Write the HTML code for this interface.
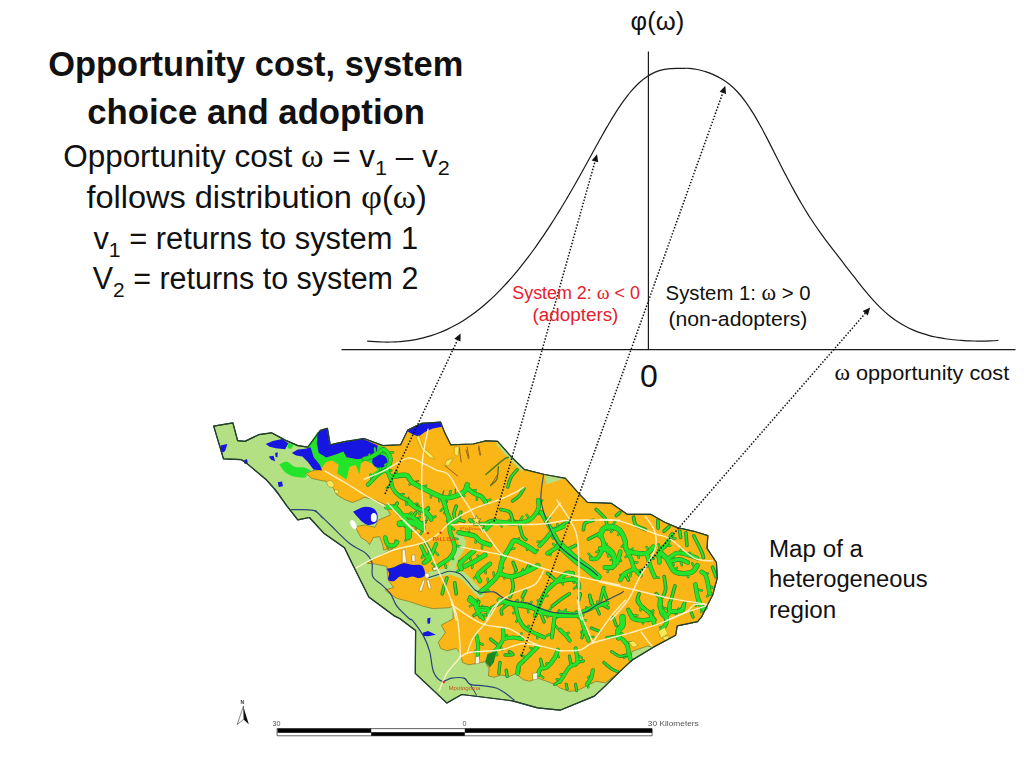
<!DOCTYPE html>
<html lang="en"><head><meta charset="utf-8"><title>Opportunity cost, system choice and adoption</title>
<style>html,body{margin:0;padding:0;background:#fff;}body{width:1024px;height:768px;overflow:hidden;}svg{display:block;}text{font-family:"Liberation Sans","DejaVu Sans",sans-serif;}</style>
</head><body>
<svg width="1024" height="768" viewBox="0 0 1024 768">
<rect width="1024" height="768" fill="#fff"/>
<defs><filter id="soft" x="-2%" y="-2%" width="104%" height="104%"><feGaussianBlur stdDeviation="0.45"/></filter></defs>
<g id="map" stroke-linejoin="round" stroke-linecap="round" filter="url(#soft)">
<polygon points="213.7,426.1 232.9,422.9 237.6,440.6 244.9,441.4 258.7,434.7 271.5,432.8 285.2,440.1 297.8,445.6 307.9,447.2 320.4,430.4 327.4,428.4 330.2,444.8 344.6,441.7 364,438.6 382.8,445.6 400.7,444.8 407.8,430 421.8,423.3 440.6,422.2 444.5,432.3 450.7,444.8 473.4,444 485.9,440.9 497.6,441.4 511.7,457.3 524,469.3 544.3,474.5 565.4,478.4 578.7,493.3 587.3,502.3 611.5,503.4 627.1,514.3 650.6,514.3 664.6,522.2 677.1,527.6 693.8,531.3 707.8,535.6 707,548.4 716.4,562.5 717.2,578.1 712.5,595.3 710,600 701.4,617.2 697.5,621.6 677.2,625.8 675.6,635.2 653.8,646.9 631.9,660.2 619.4,671.9 605.3,685.9 594.4,696.1 560,710.2 537.5,707.8 512.5,700.8 461.7,694.5 446.9,703.1 415.3,673.4 415.6,630.5 400,618.8 393.8,615.6 368.8,596.9 357.8,575 351.6,562.5 344.5,547.7 324.2,533.6 309.4,517.5 297.8,519.8 286.8,505.8 279,494.8 272.8,487 265.7,479.2 247,463.6 241.5,459.7 223.5,458.9" fill="#b4e084" stroke="#24402e" stroke-width="1.2"/>
<polygon points="306.3,472.9 313.4,470.6 320.5,469.5 321.5,461.5 330,456 344,452 364,438.6 382.8,445.6 400.7,444.8 407.8,430 421.8,423.3 440.6,422.2 444.5,432.3 450.7,444.8 473.4,444 485.9,440.9 497.6,441.4 511.7,457.3 524,469.3 544.3,474.5 565.4,478.4 578.7,493.3 587.3,502.3 611.5,503.4 627.1,514.3 650.6,514.3 664.6,522.2 677.1,527.6 693.8,531.3 707.8,535.6 707,548.4 716.4,562.5 717.2,578.1 712.5,595.3 710,600 701.4,617.2 697.5,621.6 677.2,625.8 675.6,635.2 653.8,646.9 647.5,646.1 638.1,649.2 631.9,651.6 631.1,657.8 631.9,660.2 619.4,671.9 611.6,678.1 605.3,682.8 595.9,681.3 586.6,685.9 577.2,690.6 569.4,691.4 560,688 556.3,685.2 546.9,681.3 537.5,678.1 529.7,681.3 523.4,679.7 515.6,673.4 509.4,676.6 501.6,675 493.8,677.3 488.3,675.8 489.1,668.8 485.2,661.7 476.6,663.3 468.8,664.8 462.5,662.5 460.9,653.9 456.3,648.4 446.9,650.8 440.6,648.4 438.3,642.2 445.3,632.8 441.4,625 453.1,618.8 453.1,606.3 448.4,607.8 432.8,608.6 423.4,606.3 409.4,601.6 396.9,598.4 387.5,592.2 385.2,589.8 393.8,587.5 388.3,580.5 386.7,566.4 375,564 367.2,563.3 378.1,556.3 393,548.5 383.5,550 382.8,545.3 379.7,536.7 373.4,537.5 369.5,544.5 367.2,541.4 360.9,537.5 355.5,527.3 359.4,525.8 365.6,525 375,527.3 378.1,520.3 385.2,517.2 390.6,514.8 389,512 384.3,504.2 373.4,499.5 364,497.2 360.3,499.5 352.4,502.6 344.6,499.5 336.8,494.8 333.7,488.6 327.4,481.5 322.8,480.8 311.8,478.4 306.3,473.7" fill="#fab614" stroke="#6b6420" stroke-width="0.6"/>
<polygon points="544.3,474.8 564,478.6 547,484.5" fill="#b4e084"/>
<polygon points="497.6,441.6 511.7,457.5 524,469.5 522,471 509,459 496,444" fill="#b4e084"/>
<path d="M429.4 575.6 C430.8 575.2 434.1 573.9 437.5 573.1 C440.9 572.3 447.3 572.8 450 570.6 C452.7 568.4 452.2 563.4 453.8 560 C455.4 556.6 458.4 552.9 459.8 550 C461.2 547.1 462.7 544.8 462.5 542.5 C462.3 540.2 459.4 537.2 458.8 536.2" fill="none" stroke="#b4e084" stroke-width="7"/>
<path d="M450 570.6 C452.1 571.4 458.9 573.2 462.5 575.6 C466.1 578.0 469.0 582.0 471.9 585 C474.8 588.0 478.6 592.3 480 593.8" fill="none" stroke="#b4e084" stroke-width="7.5"/>
<path d="M279.3 464.3 C280.6 463.9 284.2 461.3 286.8 461.7 C289.4 462.1 291.7 465.7 294.6 466.7 C297.5 467.7 301.3 466.9 304 467.5 C306.7 468.1 310.2 469.7 310.6 470.6 C311.0 471.6 307.1 472.1 306.3 473.2 C305.5 474.3 307.6 476.7 305.6 477.3 C303.7 477.9 298.0 477.7 294.6 476.8 C291.2 475.9 287.8 474.3 285.2 472.2 C282.6 470.1 280.3 465.6 279.3 464.3Z" fill="#24e42c"/>
<polygon points="288.4,443.2 293.8,444.5 291.5,448.7 287.6,448.2" fill="#24e42c"/>
<polygon points="307.4,447.3 317.6,432 317.1,443.2 318.7,452.9 326.2,457.6 335.6,454.5 343.4,451.4 346.5,457.3 357.4,459.2 368.4,457.6 376.5,452.9 377.8,445.6 384,447.2 391.8,455.8 392.1,463.6 387.1,471.4 377.8,477.6 368.4,485.8 371.5,474.5 377.8,469.8 371.5,463.6 365.2,460.4 360.9,463.6 359.3,474.8 355.9,465.1 349.6,466.7 346.5,479.5 337.1,473.2 338.7,465.1 332.4,460.4 326.2,462 320.2,470.1 313.7,458.9 310.6,451.1" fill="#24e42c"/>
<polygon points="265.7,444 272.8,440.9 282.1,438.9 288.4,443.2 285.2,449.2 275.9,448.2 269.6,446.7" fill="#1414e0"/>
<polygon points="220.4,445.6 227.4,444 225.1,451.1 221.5,452.9" fill="#1414e0"/>
<polygon points="268.8,456.5 273.5,455.8 275.1,461.2 271.2,459.7" fill="#1414e0"/>
<polygon points="275.1,452.9 277.8,452.3 277.4,457.3 275.6,457" fill="#1414e0"/>
<polygon points="243.1,460.8 247,458.9 247.8,463.2 244.9,463.9" fill="#1414e0"/>
<polygon points="277.8,482.3 282.1,481.5 282.9,486.2 278.7,487" fill="#1414e0"/>
<polygon points="272.4,486.7 275.1,488.6 279.8,494.8 277.4,493.2" fill="#1414e0"/>
<polygon points="291.8,452.9 297.8,449.5 305.6,448.7 310.6,447.3 313.7,457.3 319.9,465.1 322.1,470.4 313.4,469.5 307.9,462 302.4,456.5 296.2,455.4" fill="#1414e0"/>
<polygon points="317.6,432.3 327,428.4 329.6,444.8 343.4,442.5 362.1,438.6 377.8,445.6 376.5,452.9 368.4,457.6 357.4,459.2 346.5,457.3 343.4,451.4 335.6,454.5 326.2,457.6 318.7,452.9 316.8,443.2" fill="#1414e0"/>
<ellipse cx="379.8" cy="461.3" rx="7.6" ry="6.8" fill="#1414e0"/>
<polygon points="407,431.1 421.8,423.2 440.6,422.2 442.1,426.8 432.8,428.4 424.9,432 418.7,436.4 412.4,434.2" fill="#1414e0"/>
<path d="M353.1 511.7 C354.9 510.9 360.7 507.5 364.1 507 C367.5 506.5 371.2 507.4 373.4 508.6 C375.6 509.8 376.8 511.9 377.3 514.1 C377.8 516.3 378.0 520.1 376.6 521.9 C375.2 523.7 371.2 525.0 368.8 525 C366.4 525.0 364.3 523.2 362.5 521.9 C360.7 520.6 359.4 518.9 357.8 517.2 C356.2 515.5 353.9 512.6 353.1 511.7Z" fill="#1414e0"/>
<ellipse cx="373.8" cy="517.5" rx="3" ry="4.6" fill="#fff"/>
<ellipse cx="353.4" cy="524.7" rx="2.6" ry="5" fill="#fff" transform="rotate(-25 353.4 524.7)"/>
<path d="M386.7 568.8 C387.9 568.5 391.1 568.1 393.8 567.2 C396.5 566.3 400.0 563.7 403.1 563.3 C406.2 562.9 409.4 564.4 412.5 564.8 C415.6 565.2 419.8 563.9 421.9 565.6 C424.0 567.3 425.5 572.9 425 575 C424.5 577.1 420.9 577.8 418.8 578.1 C416.7 578.4 414.6 576.6 412.5 576.6 C410.4 576.6 408.3 578.1 406.2 578.1 C404.1 578.1 402.1 576.1 400 576.6 C397.9 577.1 395.8 580.7 393.8 581.2 C391.9 581.7 389.1 581.0 388.3 579.7 C387.5 578.4 389.4 575.2 389.1 573.4 C388.8 571.6 387.1 569.6 386.7 568.8Z" fill="#1414e0"/>
<polygon points="427.3,618.4 430.5,617.5 430,623.4 427.5,623.8" fill="#1414e0"/>
<polygon points="422.7,632.8 428.1,630.9 435.9,634.7 428.1,636.2 423.4,635.9" fill="#1414e0"/>
<path d="M368.5 457.7 L369.4 454.5" fill="none" stroke="#2f8a2a" stroke-width="2.5"/>
<path d="M375.3 454.5 L374.8 448.3" fill="none" stroke="#2f8a2a" stroke-width="2.5"/>
<path d="M381.8 450.9 L385.3 452.9" fill="none" stroke="#2f8a2a" stroke-width="2.5"/>
<path d="M386.8 453.3 L393.1 452.3" fill="none" stroke="#2f8a2a" stroke-width="2.5"/>
<path d="M389.6 462.5 L385 464.8" fill="none" stroke="#2f8a2a" stroke-width="2.5"/>
<path d="M387.7 470.4 L391.3 470.6" fill="none" stroke="#2f8a2a" stroke-width="2.5"/>
<path d="M470.7 490.9 L475.8 490.2" fill="none" stroke="#2f8a2a" stroke-width="2.5"/>
<path d="M477.1 494.7 L476.9 499.8" fill="none" stroke="#2f8a2a" stroke-width="2.5"/>
<path d="M484.6 500.8 L490.2 499.8" fill="none" stroke="#2f8a2a" stroke-width="2.5"/>
<path d="M395.4 476.3 L396.5 470.9" fill="none" stroke="#2f8a2a" stroke-width="2.5"/>
<path d="M405.8 475.3 L409 480.5" fill="none" stroke="#2f8a2a" stroke-width="2.5"/>
<path d="M411.7 481.5 L409.5 484.4" fill="none" stroke="#2f8a2a" stroke-width="2.5"/>
<path d="M421.6 487.4 L426.1 485.6" fill="none" stroke="#2f8a2a" stroke-width="2.5"/>
<path d="M431.4 492.3 L430.9 497.4" fill="none" stroke="#2f8a2a" stroke-width="2.5"/>
<path d="M439.5 496 L439.2 501.2" fill="none" stroke="#2f8a2a" stroke-width="2.5"/>
<path d="M449 497.2 L450.7 491.1" fill="none" stroke="#2f8a2a" stroke-width="2.5"/>
<path d="M459.2 493.8 L464.3 496" fill="none" stroke="#2f8a2a" stroke-width="2.5"/>
<path d="M392.1 484.6 L386.8 487.8" fill="none" stroke="#2f8a2a" stroke-width="2.5"/>
<path d="M398.6 494.9 L403.7 494.1" fill="none" stroke="#2f8a2a" stroke-width="2.5"/>
<path d="M405.6 499.2 L406.4 504.8" fill="none" stroke="#2f8a2a" stroke-width="2.5"/>
<path d="M415.2 506.9 L418.8 505.8" fill="none" stroke="#2f8a2a" stroke-width="2.5"/>
<path d="M423.1 510.5 L424.4 515" fill="none" stroke="#2f8a2a" stroke-width="2.5"/>
<path d="M430.4 518.5 L435.5 516.5" fill="none" stroke="#2f8a2a" stroke-width="2.5"/>
<path d="M443.1 500.5 L446.8 501.8" fill="none" stroke="#2f8a2a" stroke-width="2.5"/>
<path d="M446.2 510.5 L444.2 513.1" fill="none" stroke="#2f8a2a" stroke-width="2.5"/>
<path d="M448.6 519.4 L454.6 521.4" fill="none" stroke="#2f8a2a" stroke-width="2.5"/>
<path d="M372.2 480.4 L370.5 474.6" fill="none" stroke="#2f8a2a" stroke-width="2.5"/>
<path d="M380.1 472.7 L380.4 468.2" fill="none" stroke="#2f8a2a" stroke-width="2.5"/>
<path d="M391.7 507.5 L394.6 504.9" fill="none" stroke="#2f8a2a" stroke-width="2.5"/>
<path d="M398.9 511.8 L398.6 515" fill="none" stroke="#2f8a2a" stroke-width="2.5"/>
<path d="M403.7 517.7 L407 517.5" fill="none" stroke="#2f8a2a" stroke-width="2.5"/>
<path d="M408.3 527.1 L411.7 529.2" fill="none" stroke="#2f8a2a" stroke-width="2.5"/>
<path d="M409.4 536.2 L405.4 540.6" fill="none" stroke="#2f8a2a" stroke-width="2.5"/>
<path d="M406.9 516 L411.4 512.5" fill="none" stroke="#2f8a2a" stroke-width="2.5"/>
<path d="M415.7 519.8 L419.9 517.3" fill="none" stroke="#2f8a2a" stroke-width="2.5"/>
<path d="M423.3 529.6 L420.5 534.2" fill="none" stroke="#2f8a2a" stroke-width="2.5"/>
<path d="M413 505.8 L416.4 503.6" fill="none" stroke="#2f8a2a" stroke-width="2.5"/>
<path d="M420 509.6 L419.6 514.5" fill="none" stroke="#2f8a2a" stroke-width="2.5"/>
<path d="M427.6 514.1 L427 519.9" fill="none" stroke="#2f8a2a" stroke-width="2.5"/>
<path d="M387.5 544.1 L387.9 548" fill="none" stroke="#2f8a2a" stroke-width="2.5"/>
<path d="M395.7 543.7 L395.6 540.4" fill="none" stroke="#2f8a2a" stroke-width="2.5"/>
<path d="M445.4 506.3 L440.8 510.6" fill="none" stroke="#2f8a2a" stroke-width="2.5"/>
<path d="M449.2 518.4 L446.9 521.5" fill="none" stroke="#2f8a2a" stroke-width="2.5"/>
<path d="M450 526.4 L454.2 529.6" fill="none" stroke="#2f8a2a" stroke-width="2.5"/>
<path d="M452.3 538.1 L457.5 539" fill="none" stroke="#2f8a2a" stroke-width="2.5"/>
<path d="M454.1 545.4 L460.2 546.5" fill="none" stroke="#2f8a2a" stroke-width="2.5"/>
<path d="M450.9 555.9 L453.1 559" fill="none" stroke="#2f8a2a" stroke-width="2.5"/>
<path d="M444.3 561.6 L446.1 567.8" fill="none" stroke="#2f8a2a" stroke-width="2.5"/>
<path d="M436.7 567.2 L432.4 563.6" fill="none" stroke="#2f8a2a" stroke-width="2.5"/>
<path d="M403.7 523.5 L405.1 526.9" fill="none" stroke="#2f8a2a" stroke-width="2.5"/>
<path d="M416.2 524.6 L415.8 529" fill="none" stroke="#2f8a2a" stroke-width="2.5"/>
<path d="M407.6 528.1 L413.3 530.7" fill="none" stroke="#2f8a2a" stroke-width="2.5"/>
<path d="M465.8 534 L469.1 531.9" fill="none" stroke="#2f8a2a" stroke-width="2.5"/>
<path d="M476.5 537.7 L475.5 542.6" fill="none" stroke="#2f8a2a" stroke-width="2.5"/>
<path d="M482.2 542 L482 548.2" fill="none" stroke="#2f8a2a" stroke-width="2.5"/>
<path d="M469.5 554.8 L470.6 559.6" fill="none" stroke="#2f8a2a" stroke-width="2.5"/>
<path d="M462.4 561.3 L459.2 561" fill="none" stroke="#2f8a2a" stroke-width="2.5"/>
<path d="M461.1 568.2 L456.9 572" fill="none" stroke="#2f8a2a" stroke-width="2.5"/>
<path d="M480.2 557.9 L477.6 555.6" fill="none" stroke="#2f8a2a" stroke-width="2.5"/>
<path d="M472.9 562.2 L472.1 567.9" fill="none" stroke="#2f8a2a" stroke-width="2.5"/>
<path d="M484.8 568.1 L485.7 573.3" fill="none" stroke="#2f8a2a" stroke-width="2.5"/>
<path d="M477.5 575.1 L474.1 578.2" fill="none" stroke="#2f8a2a" stroke-width="2.5"/>
<path d="M475.2 603.1 L469.9 606.3" fill="none" stroke="#2f8a2a" stroke-width="2.5"/>
<path d="M479.9 610 L482.2 606.1" fill="none" stroke="#2f8a2a" stroke-width="2.5"/>
<path d="M488.3 613.3 L485.5 616.1" fill="none" stroke="#2f8a2a" stroke-width="2.5"/>
<path d="M424.3 552.4 L421.8 558" fill="none" stroke="#2f8a2a" stroke-width="2.5"/>
<path d="M428.5 559.5 L425.3 562.8" fill="none" stroke="#2f8a2a" stroke-width="2.5"/>
<path d="M433.4 550.4 L438.1 554.8" fill="none" stroke="#2f8a2a" stroke-width="2.5"/>
<path d="M429.3 559 L425.8 559.4" fill="none" stroke="#2f8a2a" stroke-width="2.5"/>
<path d="M474.2 523.2 L478.8 521.4" fill="none" stroke="#2f8a2a" stroke-width="2.5"/>
<path d="M485.4 525.5 L481.8 530.6" fill="none" stroke="#2f8a2a" stroke-width="2.5"/>
<path d="M482.9 590 L488.6 590.5" fill="none" stroke="#2f8a2a" stroke-width="2.5"/>
<path d="M488.8 584.9 L487.6 578.8" fill="none" stroke="#2f8a2a" stroke-width="2.5"/>
<path d="M494.6 578.7 L493.5 572.6" fill="none" stroke="#2f8a2a" stroke-width="2.5"/>
<path d="M500.1 569.2 L503.1 567.7" fill="none" stroke="#2f8a2a" stroke-width="2.5"/>
<path d="M502.7 560.1 L500.7 554.1" fill="none" stroke="#2f8a2a" stroke-width="2.5"/>
<path d="M508.4 549.8 L514.3 548.4" fill="none" stroke="#2f8a2a" stroke-width="2.5"/>
<path d="M515.7 541 L519.1 538.4" fill="none" stroke="#2f8a2a" stroke-width="2.5"/>
<path d="M527 546.3 L527.2 549.9" fill="none" stroke="#2f8a2a" stroke-width="2.5"/>
<path d="M534.1 551 L537.7 550" fill="none" stroke="#2f8a2a" stroke-width="2.5"/>
<path d="M503.5 574.5 L504.3 578.3" fill="none" stroke="#2f8a2a" stroke-width="2.5"/>
<path d="M514.1 575.7 L515.9 570.1" fill="none" stroke="#2f8a2a" stroke-width="2.5"/>
<path d="M521 573.4 L523.1 569.1" fill="none" stroke="#2f8a2a" stroke-width="2.5"/>
<path d="M530.3 569.5 L531.1 564.9" fill="none" stroke="#2f8a2a" stroke-width="2.5"/>
<path d="M505.1 601.9 L504.6 606.1" fill="none" stroke="#2f8a2a" stroke-width="2.5"/>
<path d="M513.1 604.2 L517.6 600" fill="none" stroke="#2f8a2a" stroke-width="2.5"/>
<path d="M520.9 605.4 L523.1 599.4" fill="none" stroke="#2f8a2a" stroke-width="2.5"/>
<path d="M527.8 606.8 L531.5 601.9" fill="none" stroke="#2f8a2a" stroke-width="2.5"/>
<path d="M534.9 608.6 L535.5 613" fill="none" stroke="#2f8a2a" stroke-width="2.5"/>
<path d="M547.1 612.5 L550.9 608.5" fill="none" stroke="#2f8a2a" stroke-width="2.5"/>
<path d="M554.9 614.9 L556.6 617.6" fill="none" stroke="#2f8a2a" stroke-width="2.5"/>
<path d="M563.8 615.4 L564.8 611.2" fill="none" stroke="#2f8a2a" stroke-width="2.5"/>
<path d="M576.1 615.1 L578.6 618" fill="none" stroke="#2f8a2a" stroke-width="2.5"/>
<path d="M488.6 527.1 L488.6 521.4" fill="none" stroke="#2f8a2a" stroke-width="2.5"/>
<path d="M498.8 522.2 L501.7 526.4" fill="none" stroke="#2f8a2a" stroke-width="2.5"/>
<path d="M507.5 522.9 L509.2 519.8" fill="none" stroke="#2f8a2a" stroke-width="2.5"/>
<path d="M519.5 522.1 L522.4 516.7" fill="none" stroke="#2f8a2a" stroke-width="2.5"/>
<path d="M529.5 519.4 L526.6 514.7" fill="none" stroke="#2f8a2a" stroke-width="2.5"/>
<path d="M535.2 512.8 L538.7 513.9" fill="none" stroke="#2f8a2a" stroke-width="2.5"/>
<path d="M538.1 502.6 L542.2 500.5" fill="none" stroke="#2f8a2a" stroke-width="2.5"/>
<path d="M545 519 L550 517.7" fill="none" stroke="#2f8a2a" stroke-width="2.5"/>
<path d="M550.7 528.6 L554.6 527.9" fill="none" stroke="#2f8a2a" stroke-width="2.5"/>
<path d="M554.5 535.4 L552.8 538.5" fill="none" stroke="#2f8a2a" stroke-width="2.5"/>
<path d="M559.5 544.4 L556.3 548.6" fill="none" stroke="#2f8a2a" stroke-width="2.5"/>
<path d="M550.3 533.5 L552.8 537.7" fill="none" stroke="#2f8a2a" stroke-width="2.5"/>
<path d="M543.2 541.9 L537.6 541.8" fill="none" stroke="#2f8a2a" stroke-width="2.5"/>
<path d="M556.2 529.6 L557.6 524.4" fill="none" stroke="#2f8a2a" stroke-width="2.5"/>
<path d="M557.2 547.1 L553.1 543.9" fill="none" stroke="#2f8a2a" stroke-width="2.5"/>
<path d="M550.9 551.2 L550.4 555.2" fill="none" stroke="#2f8a2a" stroke-width="2.5"/>
<path d="M614.3 528.4 L611.1 532" fill="none" stroke="#2f8a2a" stroke-width="2.5"/>
<path d="M606.9 526.6 L603.2 529.7" fill="none" stroke="#2f8a2a" stroke-width="2.5"/>
<path d="M600.7 532.7 L602.3 538.2" fill="none" stroke="#2f8a2a" stroke-width="2.5"/>
<path d="M603.1 542.6 L606.4 543.8" fill="none" stroke="#2f8a2a" stroke-width="2.5"/>
<path d="M601.1 550.6 L596.4 551.9" fill="none" stroke="#2f8a2a" stroke-width="2.5"/>
<path d="M592.6 558.6 L588.6 553.8" fill="none" stroke="#2f8a2a" stroke-width="2.5"/>
<path d="M606.4 547.5 L604.7 550.7" fill="none" stroke="#2f8a2a" stroke-width="2.5"/>
<path d="M613.3 554.5 L608.1 556.5" fill="none" stroke="#2f8a2a" stroke-width="2.5"/>
<path d="M613.6 565.8 L612.6 569" fill="none" stroke="#2f8a2a" stroke-width="2.5"/>
<path d="M537.1 611.1 L541.6 611.3" fill="none" stroke="#2f8a2a" stroke-width="2.5"/>
<path d="M540.1 604 L537.7 600.4" fill="none" stroke="#2f8a2a" stroke-width="2.5"/>
<path d="M543.8 595.3 L547.5 596" fill="none" stroke="#2f8a2a" stroke-width="2.5"/>
<path d="M551.3 586.8 L550.8 583.5" fill="none" stroke="#2f8a2a" stroke-width="2.5"/>
<path d="M560.2 578.5 L566.4 579.3" fill="none" stroke="#2f8a2a" stroke-width="2.5"/>
<path d="M570.5 573.4 L572.4 576.2" fill="none" stroke="#2f8a2a" stroke-width="2.5"/>
<path d="M560.6 580.9 L563 584.4" fill="none" stroke="#2f8a2a" stroke-width="2.5"/>
<path d="M572.3 580 L574.2 582.7" fill="none" stroke="#2f8a2a" stroke-width="2.5"/>
<path d="M578 585.3 L574 588.4" fill="none" stroke="#2f8a2a" stroke-width="2.5"/>
<path d="M604 529.3 L609.6 529.5" fill="none" stroke="#2f8a2a" stroke-width="2.5"/>
<path d="M611.8 526.7 L615.2 521.4" fill="none" stroke="#2f8a2a" stroke-width="2.5"/>
<path d="M620.4 531.3 L618.2 534.9" fill="none" stroke="#2f8a2a" stroke-width="2.5"/>
<path d="M625.4 543 L621.7 546.9" fill="none" stroke="#2f8a2a" stroke-width="2.5"/>
<path d="M629.7 551 L632.6 548.6" fill="none" stroke="#2f8a2a" stroke-width="2.5"/>
<path d="M637.6 553.1 L638.7 557.8" fill="none" stroke="#2f8a2a" stroke-width="2.5"/>
<path d="M649.2 550.9 L646.6 547" fill="none" stroke="#2f8a2a" stroke-width="2.5"/>
<path d="M661.8 554 L660.4 558.1" fill="none" stroke="#2f8a2a" stroke-width="2.5"/>
<path d="M669.3 563.1 L672.5 563.6" fill="none" stroke="#2f8a2a" stroke-width="2.5"/>
<path d="M674.4 570.7 L676.9 567.7" fill="none" stroke="#2f8a2a" stroke-width="2.5"/>
<path d="M685.3 572.8 L688.3 577" fill="none" stroke="#2f8a2a" stroke-width="2.5"/>
<path d="M694.8 568.6 L692.3 563.4" fill="none" stroke="#2f8a2a" stroke-width="2.5"/>
<path d="M607.1 550.8 L608.1 555.4" fill="none" stroke="#2f8a2a" stroke-width="2.5"/>
<path d="M614 559.9 L610.7 560.1" fill="none" stroke="#2f8a2a" stroke-width="2.5"/>
<path d="M608.7 567.3 L607.7 572" fill="none" stroke="#2f8a2a" stroke-width="2.5"/>
<path d="M628.8 554.5 L625.6 556.9" fill="none" stroke="#2f8a2a" stroke-width="2.5"/>
<path d="M632 561.7 L637.4 562.4" fill="none" stroke="#2f8a2a" stroke-width="2.5"/>
<path d="M637 571.6 L642.4 569.5" fill="none" stroke="#2f8a2a" stroke-width="2.5"/>
<path d="M631.5 570.2 L630.4 576.3" fill="none" stroke="#2f8a2a" stroke-width="2.5"/>
<path d="M624.1 574.7 L620.1 575" fill="none" stroke="#2f8a2a" stroke-width="2.5"/>
<path d="M647.8 556.6 L653.7 558.8" fill="none" stroke="#2f8a2a" stroke-width="2.5"/>
<path d="M649.8 564.9 L647.1 566.5" fill="none" stroke="#2f8a2a" stroke-width="2.5"/>
<path d="M654.7 576.9 L658.8 577.8" fill="none" stroke="#2f8a2a" stroke-width="2.5"/>
<path d="M618.8 557 L621.1 561" fill="none" stroke="#2f8a2a" stroke-width="2.5"/>
<path d="M670.5 557.2 L674.3 558.1" fill="none" stroke="#2f8a2a" stroke-width="2.5"/>
<path d="M678.5 553.4 L681.7 548.9" fill="none" stroke="#2f8a2a" stroke-width="2.5"/>
<path d="M687.5 554.7 L690 552.7" fill="none" stroke="#2f8a2a" stroke-width="2.5"/>
<path d="M672.1 561 L673.7 564.9" fill="none" stroke="#2f8a2a" stroke-width="2.5"/>
<path d="M680.2 559.6 L681.8 565.1" fill="none" stroke="#2f8a2a" stroke-width="2.5"/>
<path d="M659.4 557 L654.7 555.9" fill="none" stroke="#2f8a2a" stroke-width="2.5"/>
<path d="M660.7 550.2 L658.5 544.4" fill="none" stroke="#2f8a2a" stroke-width="2.5"/>
<path d="M665.7 545.1 L670.3 545.7" fill="none" stroke="#2f8a2a" stroke-width="2.5"/>
<path d="M669.9 538.2 L675.5 538.4" fill="none" stroke="#2f8a2a" stroke-width="2.5"/>
<path d="M704 574.3 L707.7 573.6" fill="none" stroke="#2f8a2a" stroke-width="2.5"/>
<path d="M707.9 584.7 L712.4 587.6" fill="none" stroke="#2f8a2a" stroke-width="2.5"/>
<path d="M709.7 593.8 L707 596.4" fill="none" stroke="#2f8a2a" stroke-width="2.5"/>
<path d="M696.2 589.1 L701.8 590.5" fill="none" stroke="#2f8a2a" stroke-width="2.5"/>
<path d="M698.6 600.4 L695.9 605.6" fill="none" stroke="#2f8a2a" stroke-width="2.5"/>
<path d="M505.3 601.5 L506.6 605.7" fill="none" stroke="#2f8a2a" stroke-width="2.5"/>
<path d="M512.1 603.5 L514.5 608.8" fill="none" stroke="#2f8a2a" stroke-width="2.5"/>
<path d="M519.3 604.4 L521.4 607.1" fill="none" stroke="#2f8a2a" stroke-width="2.5"/>
<path d="M527.7 606.1 L528.2 612.3" fill="none" stroke="#2f8a2a" stroke-width="2.5"/>
<path d="M535.8 608.8 L539.7 605.4" fill="none" stroke="#2f8a2a" stroke-width="2.5"/>
<path d="M545.8 613.3 L547.5 617.1" fill="none" stroke="#2f8a2a" stroke-width="2.5"/>
<path d="M557.1 615.1 L559.1 610.2" fill="none" stroke="#2f8a2a" stroke-width="2.5"/>
<path d="M534.6 649.8 L530.3 647.8" fill="none" stroke="#2f8a2a" stroke-width="2.5"/>
<path d="M526.2 658.1 L521.3 655" fill="none" stroke="#2f8a2a" stroke-width="2.5"/>
<path d="M519.2 665.2 L519.3 671.5" fill="none" stroke="#2f8a2a" stroke-width="2.5"/>
<path d="M556.4 653.5 L558.8 657" fill="none" stroke="#2f8a2a" stroke-width="2.5"/>
<path d="M550.2 663.2 L546.3 663.4" fill="none" stroke="#2f8a2a" stroke-width="2.5"/>
<path d="M543.7 668 L540.9 666.2" fill="none" stroke="#2f8a2a" stroke-width="2.5"/>
<path d="M538.2 674.1 L543.2 677.6" fill="none" stroke="#2f8a2a" stroke-width="2.5"/>
<path d="M471.5 602.1 L477.5 599.6" fill="none" stroke="#2f8a2a" stroke-width="2.5"/>
<path d="M476.4 608.1 L480.8 609.6" fill="none" stroke="#2f8a2a" stroke-width="2.5"/>
<path d="M480.4 615.4 L486 614.2" fill="none" stroke="#2f8a2a" stroke-width="2.5"/>
<path d="M516.7 610.5 L513.3 613.3" fill="none" stroke="#2f8a2a" stroke-width="2.5"/>
<path d="M518.7 618.5 L516.2 621.6" fill="none" stroke="#2f8a2a" stroke-width="2.5"/>
<path d="M525.7 628.5 L529.1 625.8" fill="none" stroke="#2f8a2a" stroke-width="2.5"/>
<path d="M537.3 634.3 L537.3 638.3" fill="none" stroke="#2f8a2a" stroke-width="2.5"/>
<path d="M553.7 623.5 L557.4 628.3" fill="none" stroke="#2f8a2a" stroke-width="2.5"/>
<path d="M552.5 633.1 L546.9 635.6" fill="none" stroke="#2f8a2a" stroke-width="2.5"/>
<path d="M503.1 635.7 L507.4 636.7" fill="none" stroke="#2f8a2a" stroke-width="2.5"/>
<path d="M499.8 644.5 L502.1 649.8" fill="none" stroke="#2f8a2a" stroke-width="2.5"/>
<path d="M495.1 650.5 L497.2 655.3" fill="none" stroke="#2f8a2a" stroke-width="2.5"/>
<path d="M506.8 638.5 L506.8 635.2" fill="none" stroke="#2f8a2a" stroke-width="2.5"/>
<path d="M519.1 638.6 L521.6 633.3" fill="none" stroke="#2f8a2a" stroke-width="2.5"/>
<path d="M477.6 641.9 L482.7 644.7" fill="none" stroke="#2f8a2a" stroke-width="2.5"/>
<path d="M477.9 649.3 L474.4 652.1" fill="none" stroke="#2f8a2a" stroke-width="2.5"/>
<path d="M563.4 612.9 L565.9 609.6" fill="none" stroke="#2f8a2a" stroke-width="2.5"/>
<path d="M574.4 614 L576.4 611.3" fill="none" stroke="#2f8a2a" stroke-width="2.5"/>
<path d="M586.1 610.4 L586.5 607.2" fill="none" stroke="#2f8a2a" stroke-width="2.5"/>
<path d="M597 605.9 L597.5 601.5" fill="none" stroke="#2f8a2a" stroke-width="2.5"/>
<path d="M631.4 615.4 L637.3 615.4" fill="none" stroke="#2f8a2a" stroke-width="2.5"/>
<path d="M641.6 619.9 L643 623.4" fill="none" stroke="#2f8a2a" stroke-width="2.5"/>
<path d="M651.8 618.9 L653.1 612.8" fill="none" stroke="#2f8a2a" stroke-width="2.5"/>
<path d="M660 604.9 L663.2 607.5" fill="none" stroke="#2f8a2a" stroke-width="2.5"/>
<path d="M666 615.3 L665.1 620.1" fill="none" stroke="#2f8a2a" stroke-width="2.5"/>
<path d="M663.6 627.2 L660 627.5" fill="none" stroke="#2f8a2a" stroke-width="2.5"/>
<path d="M625.8 643.4 L630.9 642.2" fill="none" stroke="#2f8a2a" stroke-width="2.5"/>
<path d="M629.1 654 L624.1 657.7" fill="none" stroke="#2f8a2a" stroke-width="2.5"/>
<path d="M581.8 620 L585.6 620.2" fill="none" stroke="#2f8a2a" stroke-width="2.5"/>
<path d="M584.3 629.1 L581.2 632.3" fill="none" stroke="#2f8a2a" stroke-width="2.5"/>
<path d="M587.1 637.1 L593.3 637.1" fill="none" stroke="#2f8a2a" stroke-width="2.5"/>
<path d="M564.8 634.5 L568.7 632.8" fill="none" stroke="#2f8a2a" stroke-width="2.5"/>
<path d="M641.4 606.4 L640.3 610.4" fill="none" stroke="#2f8a2a" stroke-width="2.5"/>
<path d="M648.7 612.2 L653.3 610.6" fill="none" stroke="#2f8a2a" stroke-width="2.5"/>
<path d="M652 618.4 L648.2 621.2" fill="none" stroke="#2f8a2a" stroke-width="2.5"/>
<path d="M669.5 609.9 L665.2 608.4" fill="none" stroke="#2f8a2a" stroke-width="2.5"/>
<path d="M674.2 610.9 L676.7 615.7" fill="none" stroke="#2f8a2a" stroke-width="2.5"/>
<path d="M681.9 610.8 L678.3 608.7" fill="none" stroke="#2f8a2a" stroke-width="2.5"/>
<path d="M701 606.3 L701.4 612.1" fill="none" stroke="#2f8a2a" stroke-width="2.5"/>
<path d="M576.3 654.4 L581.8 657.8" fill="none" stroke="#2f8a2a" stroke-width="2.5"/>
<path d="M573.2 664.9 L570.6 662.2" fill="none" stroke="#2f8a2a" stroke-width="2.5"/>
<path d="M564.9 673.9 L560.6 674.6" fill="none" stroke="#2f8a2a" stroke-width="2.5"/>
<path d="M560.6 680.6 L556.7 679.3" fill="none" stroke="#2f8a2a" stroke-width="2.5"/>
<path d="M591.7 675.7 L588 677.5" fill="none" stroke="#2f8a2a" stroke-width="2.5"/>
<path d="M587.6 683.4 L588.3 687.2" fill="none" stroke="#2f8a2a" stroke-width="2.5"/>
<path d="M622.5 623.6 L618 627.2" fill="none" stroke="#2f8a2a" stroke-width="2.5"/>
<path d="M618.2 632.4 L622.4 633.6" fill="none" stroke="#2f8a2a" stroke-width="2.5"/>
<path d="M368.5 457.7 L369.4 454.5" fill="none" stroke="#24e42c" stroke-width="1.4"/>
<path d="M375.3 454.5 L374.8 448.3" fill="none" stroke="#24e42c" stroke-width="1.4"/>
<path d="M381.8 450.9 L385.3 452.9" fill="none" stroke="#24e42c" stroke-width="1.4"/>
<path d="M386.8 453.3 L393.1 452.3" fill="none" stroke="#24e42c" stroke-width="1.4"/>
<path d="M389.6 462.5 L385 464.8" fill="none" stroke="#24e42c" stroke-width="1.4"/>
<path d="M387.7 470.4 L391.3 470.6" fill="none" stroke="#24e42c" stroke-width="1.4"/>
<path d="M470.7 490.9 L475.8 490.2" fill="none" stroke="#24e42c" stroke-width="1.4"/>
<path d="M477.1 494.7 L476.9 499.8" fill="none" stroke="#24e42c" stroke-width="1.4"/>
<path d="M484.6 500.8 L490.2 499.8" fill="none" stroke="#24e42c" stroke-width="1.4"/>
<path d="M395.4 476.3 L396.5 470.9" fill="none" stroke="#24e42c" stroke-width="1.4"/>
<path d="M405.8 475.3 L409 480.5" fill="none" stroke="#24e42c" stroke-width="1.4"/>
<path d="M411.7 481.5 L409.5 484.4" fill="none" stroke="#24e42c" stroke-width="1.4"/>
<path d="M421.6 487.4 L426.1 485.6" fill="none" stroke="#24e42c" stroke-width="1.4"/>
<path d="M431.4 492.3 L430.9 497.4" fill="none" stroke="#24e42c" stroke-width="1.4"/>
<path d="M439.5 496 L439.2 501.2" fill="none" stroke="#24e42c" stroke-width="1.4"/>
<path d="M449 497.2 L450.7 491.1" fill="none" stroke="#24e42c" stroke-width="1.4"/>
<path d="M459.2 493.8 L464.3 496" fill="none" stroke="#24e42c" stroke-width="1.4"/>
<path d="M392.1 484.6 L386.8 487.8" fill="none" stroke="#24e42c" stroke-width="1.4"/>
<path d="M398.6 494.9 L403.7 494.1" fill="none" stroke="#24e42c" stroke-width="1.4"/>
<path d="M405.6 499.2 L406.4 504.8" fill="none" stroke="#24e42c" stroke-width="1.4"/>
<path d="M415.2 506.9 L418.8 505.8" fill="none" stroke="#24e42c" stroke-width="1.4"/>
<path d="M423.1 510.5 L424.4 515" fill="none" stroke="#24e42c" stroke-width="1.4"/>
<path d="M430.4 518.5 L435.5 516.5" fill="none" stroke="#24e42c" stroke-width="1.4"/>
<path d="M443.1 500.5 L446.8 501.8" fill="none" stroke="#24e42c" stroke-width="1.4"/>
<path d="M446.2 510.5 L444.2 513.1" fill="none" stroke="#24e42c" stroke-width="1.4"/>
<path d="M448.6 519.4 L454.6 521.4" fill="none" stroke="#24e42c" stroke-width="1.4"/>
<path d="M372.2 480.4 L370.5 474.6" fill="none" stroke="#24e42c" stroke-width="1.4"/>
<path d="M380.1 472.7 L380.4 468.2" fill="none" stroke="#24e42c" stroke-width="1.4"/>
<path d="M391.7 507.5 L394.6 504.9" fill="none" stroke="#24e42c" stroke-width="1.4"/>
<path d="M398.9 511.8 L398.6 515" fill="none" stroke="#24e42c" stroke-width="1.4"/>
<path d="M403.7 517.7 L407 517.5" fill="none" stroke="#24e42c" stroke-width="1.4"/>
<path d="M408.3 527.1 L411.7 529.2" fill="none" stroke="#24e42c" stroke-width="1.4"/>
<path d="M409.4 536.2 L405.4 540.6" fill="none" stroke="#24e42c" stroke-width="1.4"/>
<path d="M406.9 516 L411.4 512.5" fill="none" stroke="#24e42c" stroke-width="1.4"/>
<path d="M415.7 519.8 L419.9 517.3" fill="none" stroke="#24e42c" stroke-width="1.4"/>
<path d="M423.3 529.6 L420.5 534.2" fill="none" stroke="#24e42c" stroke-width="1.4"/>
<path d="M413 505.8 L416.4 503.6" fill="none" stroke="#24e42c" stroke-width="1.4"/>
<path d="M420 509.6 L419.6 514.5" fill="none" stroke="#24e42c" stroke-width="1.4"/>
<path d="M427.6 514.1 L427 519.9" fill="none" stroke="#24e42c" stroke-width="1.4"/>
<path d="M387.5 544.1 L387.9 548" fill="none" stroke="#24e42c" stroke-width="1.4"/>
<path d="M395.7 543.7 L395.6 540.4" fill="none" stroke="#24e42c" stroke-width="1.4"/>
<path d="M445.4 506.3 L440.8 510.6" fill="none" stroke="#24e42c" stroke-width="1.4"/>
<path d="M449.2 518.4 L446.9 521.5" fill="none" stroke="#24e42c" stroke-width="1.4"/>
<path d="M450 526.4 L454.2 529.6" fill="none" stroke="#24e42c" stroke-width="1.4"/>
<path d="M452.3 538.1 L457.5 539" fill="none" stroke="#24e42c" stroke-width="1.4"/>
<path d="M454.1 545.4 L460.2 546.5" fill="none" stroke="#24e42c" stroke-width="1.4"/>
<path d="M450.9 555.9 L453.1 559" fill="none" stroke="#24e42c" stroke-width="1.4"/>
<path d="M444.3 561.6 L446.1 567.8" fill="none" stroke="#24e42c" stroke-width="1.4"/>
<path d="M436.7 567.2 L432.4 563.6" fill="none" stroke="#24e42c" stroke-width="1.4"/>
<path d="M403.7 523.5 L405.1 526.9" fill="none" stroke="#24e42c" stroke-width="1.4"/>
<path d="M416.2 524.6 L415.8 529" fill="none" stroke="#24e42c" stroke-width="1.4"/>
<path d="M407.6 528.1 L413.3 530.7" fill="none" stroke="#24e42c" stroke-width="1.4"/>
<path d="M465.8 534 L469.1 531.9" fill="none" stroke="#24e42c" stroke-width="1.4"/>
<path d="M476.5 537.7 L475.5 542.6" fill="none" stroke="#24e42c" stroke-width="1.4"/>
<path d="M482.2 542 L482 548.2" fill="none" stroke="#24e42c" stroke-width="1.4"/>
<path d="M469.5 554.8 L470.6 559.6" fill="none" stroke="#24e42c" stroke-width="1.4"/>
<path d="M462.4 561.3 L459.2 561" fill="none" stroke="#24e42c" stroke-width="1.4"/>
<path d="M461.1 568.2 L456.9 572" fill="none" stroke="#24e42c" stroke-width="1.4"/>
<path d="M480.2 557.9 L477.6 555.6" fill="none" stroke="#24e42c" stroke-width="1.4"/>
<path d="M472.9 562.2 L472.1 567.9" fill="none" stroke="#24e42c" stroke-width="1.4"/>
<path d="M484.8 568.1 L485.7 573.3" fill="none" stroke="#24e42c" stroke-width="1.4"/>
<path d="M477.5 575.1 L474.1 578.2" fill="none" stroke="#24e42c" stroke-width="1.4"/>
<path d="M475.2 603.1 L469.9 606.3" fill="none" stroke="#24e42c" stroke-width="1.4"/>
<path d="M479.9 610 L482.2 606.1" fill="none" stroke="#24e42c" stroke-width="1.4"/>
<path d="M488.3 613.3 L485.5 616.1" fill="none" stroke="#24e42c" stroke-width="1.4"/>
<path d="M424.3 552.4 L421.8 558" fill="none" stroke="#24e42c" stroke-width="1.4"/>
<path d="M428.5 559.5 L425.3 562.8" fill="none" stroke="#24e42c" stroke-width="1.4"/>
<path d="M433.4 550.4 L438.1 554.8" fill="none" stroke="#24e42c" stroke-width="1.4"/>
<path d="M429.3 559 L425.8 559.4" fill="none" stroke="#24e42c" stroke-width="1.4"/>
<path d="M474.2 523.2 L478.8 521.4" fill="none" stroke="#24e42c" stroke-width="1.4"/>
<path d="M485.4 525.5 L481.8 530.6" fill="none" stroke="#24e42c" stroke-width="1.4"/>
<path d="M482.9 590 L488.6 590.5" fill="none" stroke="#24e42c" stroke-width="1.4"/>
<path d="M488.8 584.9 L487.6 578.8" fill="none" stroke="#24e42c" stroke-width="1.4"/>
<path d="M494.6 578.7 L493.5 572.6" fill="none" stroke="#24e42c" stroke-width="1.4"/>
<path d="M500.1 569.2 L503.1 567.7" fill="none" stroke="#24e42c" stroke-width="1.4"/>
<path d="M502.7 560.1 L500.7 554.1" fill="none" stroke="#24e42c" stroke-width="1.4"/>
<path d="M508.4 549.8 L514.3 548.4" fill="none" stroke="#24e42c" stroke-width="1.4"/>
<path d="M515.7 541 L519.1 538.4" fill="none" stroke="#24e42c" stroke-width="1.4"/>
<path d="M527 546.3 L527.2 549.9" fill="none" stroke="#24e42c" stroke-width="1.4"/>
<path d="M534.1 551 L537.7 550" fill="none" stroke="#24e42c" stroke-width="1.4"/>
<path d="M503.5 574.5 L504.3 578.3" fill="none" stroke="#24e42c" stroke-width="1.4"/>
<path d="M514.1 575.7 L515.9 570.1" fill="none" stroke="#24e42c" stroke-width="1.4"/>
<path d="M521 573.4 L523.1 569.1" fill="none" stroke="#24e42c" stroke-width="1.4"/>
<path d="M530.3 569.5 L531.1 564.9" fill="none" stroke="#24e42c" stroke-width="1.4"/>
<path d="M505.1 601.9 L504.6 606.1" fill="none" stroke="#24e42c" stroke-width="1.4"/>
<path d="M513.1 604.2 L517.6 600" fill="none" stroke="#24e42c" stroke-width="1.4"/>
<path d="M520.9 605.4 L523.1 599.4" fill="none" stroke="#24e42c" stroke-width="1.4"/>
<path d="M527.8 606.8 L531.5 601.9" fill="none" stroke="#24e42c" stroke-width="1.4"/>
<path d="M534.9 608.6 L535.5 613" fill="none" stroke="#24e42c" stroke-width="1.4"/>
<path d="M547.1 612.5 L550.9 608.5" fill="none" stroke="#24e42c" stroke-width="1.4"/>
<path d="M554.9 614.9 L556.6 617.6" fill="none" stroke="#24e42c" stroke-width="1.4"/>
<path d="M563.8 615.4 L564.8 611.2" fill="none" stroke="#24e42c" stroke-width="1.4"/>
<path d="M576.1 615.1 L578.6 618" fill="none" stroke="#24e42c" stroke-width="1.4"/>
<path d="M488.6 527.1 L488.6 521.4" fill="none" stroke="#24e42c" stroke-width="1.4"/>
<path d="M498.8 522.2 L501.7 526.4" fill="none" stroke="#24e42c" stroke-width="1.4"/>
<path d="M507.5 522.9 L509.2 519.8" fill="none" stroke="#24e42c" stroke-width="1.4"/>
<path d="M519.5 522.1 L522.4 516.7" fill="none" stroke="#24e42c" stroke-width="1.4"/>
<path d="M529.5 519.4 L526.6 514.7" fill="none" stroke="#24e42c" stroke-width="1.4"/>
<path d="M535.2 512.8 L538.7 513.9" fill="none" stroke="#24e42c" stroke-width="1.4"/>
<path d="M538.1 502.6 L542.2 500.5" fill="none" stroke="#24e42c" stroke-width="1.4"/>
<path d="M545 519 L550 517.7" fill="none" stroke="#24e42c" stroke-width="1.4"/>
<path d="M550.7 528.6 L554.6 527.9" fill="none" stroke="#24e42c" stroke-width="1.4"/>
<path d="M554.5 535.4 L552.8 538.5" fill="none" stroke="#24e42c" stroke-width="1.4"/>
<path d="M559.5 544.4 L556.3 548.6" fill="none" stroke="#24e42c" stroke-width="1.4"/>
<path d="M550.3 533.5 L552.8 537.7" fill="none" stroke="#24e42c" stroke-width="1.4"/>
<path d="M543.2 541.9 L537.6 541.8" fill="none" stroke="#24e42c" stroke-width="1.4"/>
<path d="M556.2 529.6 L557.6 524.4" fill="none" stroke="#24e42c" stroke-width="1.4"/>
<path d="M557.2 547.1 L553.1 543.9" fill="none" stroke="#24e42c" stroke-width="1.4"/>
<path d="M550.9 551.2 L550.4 555.2" fill="none" stroke="#24e42c" stroke-width="1.4"/>
<path d="M614.3 528.4 L611.1 532" fill="none" stroke="#24e42c" stroke-width="1.4"/>
<path d="M606.9 526.6 L603.2 529.7" fill="none" stroke="#24e42c" stroke-width="1.4"/>
<path d="M600.7 532.7 L602.3 538.2" fill="none" stroke="#24e42c" stroke-width="1.4"/>
<path d="M603.1 542.6 L606.4 543.8" fill="none" stroke="#24e42c" stroke-width="1.4"/>
<path d="M601.1 550.6 L596.4 551.9" fill="none" stroke="#24e42c" stroke-width="1.4"/>
<path d="M592.6 558.6 L588.6 553.8" fill="none" stroke="#24e42c" stroke-width="1.4"/>
<path d="M606.4 547.5 L604.7 550.7" fill="none" stroke="#24e42c" stroke-width="1.4"/>
<path d="M613.3 554.5 L608.1 556.5" fill="none" stroke="#24e42c" stroke-width="1.4"/>
<path d="M613.6 565.8 L612.6 569" fill="none" stroke="#24e42c" stroke-width="1.4"/>
<path d="M537.1 611.1 L541.6 611.3" fill="none" stroke="#24e42c" stroke-width="1.4"/>
<path d="M540.1 604 L537.7 600.4" fill="none" stroke="#24e42c" stroke-width="1.4"/>
<path d="M543.8 595.3 L547.5 596" fill="none" stroke="#24e42c" stroke-width="1.4"/>
<path d="M551.3 586.8 L550.8 583.5" fill="none" stroke="#24e42c" stroke-width="1.4"/>
<path d="M560.2 578.5 L566.4 579.3" fill="none" stroke="#24e42c" stroke-width="1.4"/>
<path d="M570.5 573.4 L572.4 576.2" fill="none" stroke="#24e42c" stroke-width="1.4"/>
<path d="M560.6 580.9 L563 584.4" fill="none" stroke="#24e42c" stroke-width="1.4"/>
<path d="M572.3 580 L574.2 582.7" fill="none" stroke="#24e42c" stroke-width="1.4"/>
<path d="M578 585.3 L574 588.4" fill="none" stroke="#24e42c" stroke-width="1.4"/>
<path d="M604 529.3 L609.6 529.5" fill="none" stroke="#24e42c" stroke-width="1.4"/>
<path d="M611.8 526.7 L615.2 521.4" fill="none" stroke="#24e42c" stroke-width="1.4"/>
<path d="M620.4 531.3 L618.2 534.9" fill="none" stroke="#24e42c" stroke-width="1.4"/>
<path d="M625.4 543 L621.7 546.9" fill="none" stroke="#24e42c" stroke-width="1.4"/>
<path d="M629.7 551 L632.6 548.6" fill="none" stroke="#24e42c" stroke-width="1.4"/>
<path d="M637.6 553.1 L638.7 557.8" fill="none" stroke="#24e42c" stroke-width="1.4"/>
<path d="M649.2 550.9 L646.6 547" fill="none" stroke="#24e42c" stroke-width="1.4"/>
<path d="M661.8 554 L660.4 558.1" fill="none" stroke="#24e42c" stroke-width="1.4"/>
<path d="M669.3 563.1 L672.5 563.6" fill="none" stroke="#24e42c" stroke-width="1.4"/>
<path d="M674.4 570.7 L676.9 567.7" fill="none" stroke="#24e42c" stroke-width="1.4"/>
<path d="M685.3 572.8 L688.3 577" fill="none" stroke="#24e42c" stroke-width="1.4"/>
<path d="M694.8 568.6 L692.3 563.4" fill="none" stroke="#24e42c" stroke-width="1.4"/>
<path d="M607.1 550.8 L608.1 555.4" fill="none" stroke="#24e42c" stroke-width="1.4"/>
<path d="M614 559.9 L610.7 560.1" fill="none" stroke="#24e42c" stroke-width="1.4"/>
<path d="M608.7 567.3 L607.7 572" fill="none" stroke="#24e42c" stroke-width="1.4"/>
<path d="M628.8 554.5 L625.6 556.9" fill="none" stroke="#24e42c" stroke-width="1.4"/>
<path d="M632 561.7 L637.4 562.4" fill="none" stroke="#24e42c" stroke-width="1.4"/>
<path d="M637 571.6 L642.4 569.5" fill="none" stroke="#24e42c" stroke-width="1.4"/>
<path d="M631.5 570.2 L630.4 576.3" fill="none" stroke="#24e42c" stroke-width="1.4"/>
<path d="M624.1 574.7 L620.1 575" fill="none" stroke="#24e42c" stroke-width="1.4"/>
<path d="M647.8 556.6 L653.7 558.8" fill="none" stroke="#24e42c" stroke-width="1.4"/>
<path d="M649.8 564.9 L647.1 566.5" fill="none" stroke="#24e42c" stroke-width="1.4"/>
<path d="M654.7 576.9 L658.8 577.8" fill="none" stroke="#24e42c" stroke-width="1.4"/>
<path d="M618.8 557 L621.1 561" fill="none" stroke="#24e42c" stroke-width="1.4"/>
<path d="M670.5 557.2 L674.3 558.1" fill="none" stroke="#24e42c" stroke-width="1.4"/>
<path d="M678.5 553.4 L681.7 548.9" fill="none" stroke="#24e42c" stroke-width="1.4"/>
<path d="M687.5 554.7 L690 552.7" fill="none" stroke="#24e42c" stroke-width="1.4"/>
<path d="M672.1 561 L673.7 564.9" fill="none" stroke="#24e42c" stroke-width="1.4"/>
<path d="M680.2 559.6 L681.8 565.1" fill="none" stroke="#24e42c" stroke-width="1.4"/>
<path d="M659.4 557 L654.7 555.9" fill="none" stroke="#24e42c" stroke-width="1.4"/>
<path d="M660.7 550.2 L658.5 544.4" fill="none" stroke="#24e42c" stroke-width="1.4"/>
<path d="M665.7 545.1 L670.3 545.7" fill="none" stroke="#24e42c" stroke-width="1.4"/>
<path d="M669.9 538.2 L675.5 538.4" fill="none" stroke="#24e42c" stroke-width="1.4"/>
<path d="M704 574.3 L707.7 573.6" fill="none" stroke="#24e42c" stroke-width="1.4"/>
<path d="M707.9 584.7 L712.4 587.6" fill="none" stroke="#24e42c" stroke-width="1.4"/>
<path d="M709.7 593.8 L707 596.4" fill="none" stroke="#24e42c" stroke-width="1.4"/>
<path d="M696.2 589.1 L701.8 590.5" fill="none" stroke="#24e42c" stroke-width="1.4"/>
<path d="M698.6 600.4 L695.9 605.6" fill="none" stroke="#24e42c" stroke-width="1.4"/>
<path d="M505.3 601.5 L506.6 605.7" fill="none" stroke="#24e42c" stroke-width="1.4"/>
<path d="M512.1 603.5 L514.5 608.8" fill="none" stroke="#24e42c" stroke-width="1.4"/>
<path d="M519.3 604.4 L521.4 607.1" fill="none" stroke="#24e42c" stroke-width="1.4"/>
<path d="M527.7 606.1 L528.2 612.3" fill="none" stroke="#24e42c" stroke-width="1.4"/>
<path d="M535.8 608.8 L539.7 605.4" fill="none" stroke="#24e42c" stroke-width="1.4"/>
<path d="M545.8 613.3 L547.5 617.1" fill="none" stroke="#24e42c" stroke-width="1.4"/>
<path d="M557.1 615.1 L559.1 610.2" fill="none" stroke="#24e42c" stroke-width="1.4"/>
<path d="M534.6 649.8 L530.3 647.8" fill="none" stroke="#24e42c" stroke-width="1.4"/>
<path d="M526.2 658.1 L521.3 655" fill="none" stroke="#24e42c" stroke-width="1.4"/>
<path d="M519.2 665.2 L519.3 671.5" fill="none" stroke="#24e42c" stroke-width="1.4"/>
<path d="M556.4 653.5 L558.8 657" fill="none" stroke="#24e42c" stroke-width="1.4"/>
<path d="M550.2 663.2 L546.3 663.4" fill="none" stroke="#24e42c" stroke-width="1.4"/>
<path d="M543.7 668 L540.9 666.2" fill="none" stroke="#24e42c" stroke-width="1.4"/>
<path d="M538.2 674.1 L543.2 677.6" fill="none" stroke="#24e42c" stroke-width="1.4"/>
<path d="M471.5 602.1 L477.5 599.6" fill="none" stroke="#24e42c" stroke-width="1.4"/>
<path d="M476.4 608.1 L480.8 609.6" fill="none" stroke="#24e42c" stroke-width="1.4"/>
<path d="M480.4 615.4 L486 614.2" fill="none" stroke="#24e42c" stroke-width="1.4"/>
<path d="M516.7 610.5 L513.3 613.3" fill="none" stroke="#24e42c" stroke-width="1.4"/>
<path d="M518.7 618.5 L516.2 621.6" fill="none" stroke="#24e42c" stroke-width="1.4"/>
<path d="M525.7 628.5 L529.1 625.8" fill="none" stroke="#24e42c" stroke-width="1.4"/>
<path d="M537.3 634.3 L537.3 638.3" fill="none" stroke="#24e42c" stroke-width="1.4"/>
<path d="M553.7 623.5 L557.4 628.3" fill="none" stroke="#24e42c" stroke-width="1.4"/>
<path d="M552.5 633.1 L546.9 635.6" fill="none" stroke="#24e42c" stroke-width="1.4"/>
<path d="M503.1 635.7 L507.4 636.7" fill="none" stroke="#24e42c" stroke-width="1.4"/>
<path d="M499.8 644.5 L502.1 649.8" fill="none" stroke="#24e42c" stroke-width="1.4"/>
<path d="M495.1 650.5 L497.2 655.3" fill="none" stroke="#24e42c" stroke-width="1.4"/>
<path d="M506.8 638.5 L506.8 635.2" fill="none" stroke="#24e42c" stroke-width="1.4"/>
<path d="M519.1 638.6 L521.6 633.3" fill="none" stroke="#24e42c" stroke-width="1.4"/>
<path d="M477.6 641.9 L482.7 644.7" fill="none" stroke="#24e42c" stroke-width="1.4"/>
<path d="M477.9 649.3 L474.4 652.1" fill="none" stroke="#24e42c" stroke-width="1.4"/>
<path d="M563.4 612.9 L565.9 609.6" fill="none" stroke="#24e42c" stroke-width="1.4"/>
<path d="M574.4 614 L576.4 611.3" fill="none" stroke="#24e42c" stroke-width="1.4"/>
<path d="M586.1 610.4 L586.5 607.2" fill="none" stroke="#24e42c" stroke-width="1.4"/>
<path d="M597 605.9 L597.5 601.5" fill="none" stroke="#24e42c" stroke-width="1.4"/>
<path d="M631.4 615.4 L637.3 615.4" fill="none" stroke="#24e42c" stroke-width="1.4"/>
<path d="M641.6 619.9 L643 623.4" fill="none" stroke="#24e42c" stroke-width="1.4"/>
<path d="M651.8 618.9 L653.1 612.8" fill="none" stroke="#24e42c" stroke-width="1.4"/>
<path d="M660 604.9 L663.2 607.5" fill="none" stroke="#24e42c" stroke-width="1.4"/>
<path d="M666 615.3 L665.1 620.1" fill="none" stroke="#24e42c" stroke-width="1.4"/>
<path d="M663.6 627.2 L660 627.5" fill="none" stroke="#24e42c" stroke-width="1.4"/>
<path d="M625.8 643.4 L630.9 642.2" fill="none" stroke="#24e42c" stroke-width="1.4"/>
<path d="M629.1 654 L624.1 657.7" fill="none" stroke="#24e42c" stroke-width="1.4"/>
<path d="M581.8 620 L585.6 620.2" fill="none" stroke="#24e42c" stroke-width="1.4"/>
<path d="M584.3 629.1 L581.2 632.3" fill="none" stroke="#24e42c" stroke-width="1.4"/>
<path d="M587.1 637.1 L593.3 637.1" fill="none" stroke="#24e42c" stroke-width="1.4"/>
<path d="M564.8 634.5 L568.7 632.8" fill="none" stroke="#24e42c" stroke-width="1.4"/>
<path d="M641.4 606.4 L640.3 610.4" fill="none" stroke="#24e42c" stroke-width="1.4"/>
<path d="M648.7 612.2 L653.3 610.6" fill="none" stroke="#24e42c" stroke-width="1.4"/>
<path d="M652 618.4 L648.2 621.2" fill="none" stroke="#24e42c" stroke-width="1.4"/>
<path d="M669.5 609.9 L665.2 608.4" fill="none" stroke="#24e42c" stroke-width="1.4"/>
<path d="M674.2 610.9 L676.7 615.7" fill="none" stroke="#24e42c" stroke-width="1.4"/>
<path d="M681.9 610.8 L678.3 608.7" fill="none" stroke="#24e42c" stroke-width="1.4"/>
<path d="M701 606.3 L701.4 612.1" fill="none" stroke="#24e42c" stroke-width="1.4"/>
<path d="M576.3 654.4 L581.8 657.8" fill="none" stroke="#24e42c" stroke-width="1.4"/>
<path d="M573.2 664.9 L570.6 662.2" fill="none" stroke="#24e42c" stroke-width="1.4"/>
<path d="M564.9 673.9 L560.6 674.6" fill="none" stroke="#24e42c" stroke-width="1.4"/>
<path d="M560.6 680.6 L556.7 679.3" fill="none" stroke="#24e42c" stroke-width="1.4"/>
<path d="M591.7 675.7 L588 677.5" fill="none" stroke="#24e42c" stroke-width="1.4"/>
<path d="M587.6 683.4 L588.3 687.2" fill="none" stroke="#24e42c" stroke-width="1.4"/>
<path d="M622.5 623.6 L618 627.2" fill="none" stroke="#24e42c" stroke-width="1.4"/>
<path d="M618.2 632.4 L622.4 633.6" fill="none" stroke="#24e42c" stroke-width="1.4"/>
<path d="M364 458.9 C365.0 458.6 367.8 458.3 370.2 457.3 C372.6 456.3 375.8 454.2 378.1 452.9 C380.5 451.6 382.2 448.5 384.3 449.5 C386.4 450.5 390.1 455.5 390.6 458.9 C391.1 462.3 387.4 466.7 387.4 469.8 C387.4 472.9 390.1 476.3 390.6 477.6" fill="none" stroke="#2f8a2a" stroke-width="4.56"/>
<path d="M466.3 487 C467.5 488.0 470.9 491.6 473.4 493.2 C475.9 494.8 479.1 494.8 481.2 496.4 C483.3 498.0 485.1 501.6 485.9 502.6" fill="none" stroke="#2f8a2a" stroke-width="4.56"/>
<path d="M390.6 476.8 C393.2 476.6 402.6 474.4 406.2 475.3 C409.8 476.2 409.0 479.8 412.4 482.3 C415.8 484.8 421.6 487.6 426.5 490.1 C431.4 492.6 437.9 496.0 442.1 497.2 C446.3 498.4 447.9 498.1 451.5 497.2 C455.1 496.3 461.4 493.8 464 491.7 C466.6 489.6 466.6 485.9 467.1 484.7" fill="none" stroke="#2f8a2a" stroke-width="5.23"/>
<path d="M390.6 477.6 C391.0 479.4 391.3 485.5 392.9 488.6 C394.4 491.7 397.2 494.3 399.9 496.4 C402.6 498.5 406.7 499.3 409.3 501.1 C411.9 502.9 412.7 505.5 415.6 507.3 C418.5 509.1 423.9 509.9 426.5 512 C429.1 514.1 430.4 518.5 431.2 519.8" fill="none" stroke="#2f8a2a" stroke-width="4.11"/>
<path d="M442.1 497.2 C442.6 498.9 444.1 503.8 445.2 507.3 C446.2 510.8 447.7 515.3 448.4 518.2 C449.1 521.1 449.1 523.5 449.2 524.5" fill="none" stroke="#2f8a2a" stroke-width="4.11"/>
<path d="M367.9 484.7 C368.8 483.8 371.4 481.2 373.4 479.2 C375.3 477.2 377.3 474.5 379.6 472.9 C381.9 471.3 386.1 470.3 387.4 469.8" fill="none" stroke="#2f8a2a" stroke-width="4.11"/>
<path d="M448.4 524.5 C450.0 523.7 455.7 521.9 457.8 519.8 C459.9 517.7 460.4 513.3 460.9 512" fill="none" stroke="#2f8a2a" stroke-width="3.44"/>
<path d="M457.8 519.8 L464 521.4" fill="none" stroke="#2f8a2a" stroke-width="3.44"/>
<path d="M495.2 519.8 C494.2 520.1 490.8 520.6 489 521.4 C487.2 522.2 485.1 524.0 484.3 524.5" fill="none" stroke="#2f8a2a" stroke-width="3.44"/>
<path d="M517.1 469.8 C516.1 471.1 512.4 474.7 510.9 477.6 C509.3 480.5 508.3 485.4 507.8 487" fill="none" stroke="#2f8a2a" stroke-width="3.44"/>
<path d="M524 488.6 C523.1 489.9 520.6 494.3 518.7 496.4 C516.8 498.5 513.5 500.3 512.4 501.1" fill="none" stroke="#2f8a2a" stroke-width="3.44"/>
<path d="M485.9 474.5 C487.7 472.9 493.7 467.7 496.8 465.1 C499.9 462.5 502.7 460.2 504.6 458.9 C506.6 457.6 507.9 457.6 508.5 457.3" fill="none" stroke="#4f7d1c" stroke-width="1.4"/>
<path d="M498.4 466.7 C498.1 468.8 498.1 476.1 496.8 479.2 C495.5 482.3 491.6 484.4 490.6 485.4" fill="none" stroke="#4f7d1c" stroke-width="1.4"/>
<path d="M501.5 508.9 C502.8 509.4 507.2 510.2 509.3 512 C511.4 513.8 511.6 518.2 514 519.8 C516.5 521.4 522.3 521.1 524 521.4" fill="none" stroke="#4f7d1c" stroke-width="1.4"/>
<path d="M409.3 501.1 L408.5 497.2" fill="none" stroke="#4f7d1c" stroke-width="1.4"/>
<path d="M415.6 507.3 L417.9 503.4" fill="none" stroke="#4f7d1c" stroke-width="1.4"/>
<path d="M426.5 512 L429.6 509.7" fill="none" stroke="#4f7d1c" stroke-width="1.4"/>
<path d="M412.4 482.3 L418.7 480.8" fill="none" stroke="#4f7d1c" stroke-width="1.4"/>
<path d="M442.1 497.2 L443.7 490.9" fill="none" stroke="#4f7d1c" stroke-width="1.4"/>
<path d="M455.4 495.6 L455.4 489.3" fill="none" stroke="#4f7d1c" stroke-width="1.4"/>
<path d="M386.7 507 C388.1 507.1 392.8 506.5 395.3 507.8 C397.8 509.1 399.5 512.2 401.6 514.8 C403.7 517.4 406.5 519.8 407.8 523.4 C409.1 527.0 409.1 534.1 409.4 536.2" fill="none" stroke="#2f8a2a" stroke-width="5.23"/>
<path d="M401.6 514.8 C403.4 515.2 409.4 515.8 412.5 517.2 C415.6 518.6 418.5 521.3 420.3 523.4 C422.1 525.5 422.9 528.7 423.4 529.7" fill="none" stroke="#2f8a2a" stroke-width="4.56"/>
<path d="M409.4 503.1 C410.4 503.9 413.0 506.4 415.6 507.8 C418.2 509.2 422.4 510.1 425 511.7 C427.6 513.3 430.2 516.5 431.2 517.5" fill="none" stroke="#2f8a2a" stroke-width="4.56"/>
<path d="M385.2 537.5 C385.6 538.6 386.1 542.8 387.5 544.1 C388.9 545.5 392.2 545.9 393.8 545.6 C395.4 545.3 396.6 542.8 397.2 542.2" fill="none" stroke="#2f8a2a" stroke-width="4.56"/>
<path d="M443.8 500 C444.3 502.1 445.9 509.1 446.9 512.5 C447.9 515.9 449.5 517.2 450 520.3 C450.5 523.4 449.5 527.8 450 531.2 C450.5 534.6 452.3 537.7 453.1 540.6 C453.9 543.5 455.2 545.5 454.7 548.4 C454.2 551.3 452.4 555.2 450 557.8 C447.6 560.4 443.2 562.3 440.6 564.1 C438.1 565.9 435.7 568.0 434.7 568.8" fill="none" stroke="#2f8a2a" stroke-width="4.56"/>
<path d="M395.3 507.8 L397.2 503.1" fill="none" stroke="#2f8a2a" stroke-width="3.66"/>
<path d="M412.5 517.2 L415.9 512.5" fill="none" stroke="#2f8a2a" stroke-width="3.66"/>
<path d="M420.3 523.4 L425.3 521.9" fill="none" stroke="#2f8a2a" stroke-width="3.66"/>
<path d="M425 511.7 L428.4 507.8" fill="none" stroke="#2f8a2a" stroke-width="3.66"/>
<path d="M425 542.2 C425.8 543.8 429.4 548.7 429.7 551.6 C430.0 554.5 427.7 557.5 426.6 559.4 C425.6 561.3 423.9 562.2 423.4 562.8" fill="none" stroke="#2f8a2a" stroke-width="3.66"/>
<path d="M446.9 578.1 C446.4 579.7 444.6 584.9 443.8 587.5 C443.0 590.1 442.5 592.8 442.2 593.8" fill="none" stroke="#2f8a2a" stroke-width="3.66"/>
<path d="M454.7 582.8 L456.2 593.8" fill="none" stroke="#2f8a2a" stroke-width="3.66"/>
<path d="M456.2 506.2 C455.8 507.5 453.9 511.5 453.9 514.1 C453.9 516.7 455.8 520.6 456.2 521.9" fill="none" stroke="#2f8a2a" stroke-width="3.66"/>
<path d="M400 523.8 C402.1 523.6 408.8 522.1 412.5 522.8 C416.2 523.5 420.8 527.0 422.5 527.8" fill="none" stroke="#2f8a2a" stroke-width="6.80"/>
<path d="M407.5 525 L407.8 537.5" fill="none" stroke="#2f8a2a" stroke-width="5.68"/>
<path d="M458.8 532.5 C459.8 532.7 462.3 533.2 465 533.8 C467.7 534.4 472.5 535.0 475 536.2 C477.5 537.4 477.5 539.7 480 541.2 C482.5 542.7 488.3 544.4 490 545" fill="none" stroke="#2f8a2a" stroke-width="5.01"/>
<path d="M473.8 551.2 C472.5 552.2 468.5 555.4 466.2 557.5 C463.9 559.6 460.8 561.9 460 563.8 C459.2 565.7 461.0 568.0 461.2 568.8" fill="none" stroke="#2f8a2a" stroke-width="5.01"/>
<path d="M485 555 C483.3 556.0 478.3 559.3 475 561.2 C471.7 563.1 466.7 565.4 465 566.2" fill="none" stroke="#2f8a2a" stroke-width="5.01"/>
<path d="M490 563.8 C488.8 564.8 484.6 568.1 482.5 570 C480.4 571.9 477.9 573.1 477.5 575 C477.1 576.9 479.6 580.2 480 581.2" fill="none" stroke="#2f8a2a" stroke-width="4.56"/>
<path d="M470 597.5 C470.8 598.3 473.8 600.4 475 602.5 C476.2 604.6 475.4 608.8 477.5 610 C479.6 611.2 485.6 609.1 487.5 610 C489.4 610.9 488.6 614.3 488.8 615.2" fill="none" stroke="#2f8a2a" stroke-width="4.56"/>
<path d="M421.2 546.2 C422.0 547.9 424.9 553.9 426.2 556.2 C427.5 558.5 428.4 559.4 428.8 560" fill="none" stroke="#2f8a2a" stroke-width="3.89"/>
<path d="M436.2 543.8 C435.6 545.2 433.7 549.8 432.5 552.5 C431.3 555.2 430.1 558.3 428.8 560 C427.6 561.7 425.6 562.3 425 562.8" fill="none" stroke="#2f8a2a" stroke-width="3.89"/>
<path d="M470 520 C470.8 520.6 472.5 523.2 475 523.8 C477.5 524.4 483.1 523.0 485 523.8 C486.9 524.6 486.0 528.0 486.2 528.8" fill="none" stroke="#2f8a2a" stroke-width="3.89"/>
<path d="M480.3 592.2 C482.1 590.6 488.1 585.9 491.2 582.8 C494.3 579.7 497.3 577.0 499.1 573.4 C500.9 569.8 500.4 565.3 502.2 560.9 C504.0 556.5 507.9 550.3 510 546.9 C512.1 543.5 512.1 540.9 514.7 540.6 C517.3 540.3 522.2 543.5 525.6 545.3 C529.0 547.1 533.4 550.5 535 551.6" fill="none" stroke="#2f8a2a" stroke-width="5.01"/>
<path d="M499.1 573.4 C501.2 573.9 507.2 576.9 511.6 576.6 C516.0 576.4 521.2 573.7 525.6 571.9 C530.0 570.1 536.0 566.6 538.1 565.6" fill="none" stroke="#2f8a2a" stroke-width="5.01"/>
<path d="M499.1 600 C501.2 600.6 507.2 602.9 511.6 603.9 C516.0 604.9 521.2 605.3 525.6 606.2 C530.0 607.1 533.4 608.0 538.1 609.4 C542.8 610.8 548.8 613.8 553.8 614.8 C558.8 615.8 563.1 615.6 567.8 615.6 C572.5 615.6 579.5 614.9 581.9 614.8" fill="none" stroke="#2f8a2a" stroke-width="5.01"/>
<path d="M485 529.7 C486.8 528.4 491.2 523.0 495.9 521.9 C500.6 520.8 507.6 523.7 513.1 523.4 C518.6 523.1 524.6 522.6 528.8 520.3 C533.0 518.0 536.5 512.8 538.1 509.4 C539.7 506.0 538.1 501.6 538.1 500" fill="none" stroke="#2f8a2a" stroke-width="4.56"/>
<path d="M541.2 512.5 C543.0 515.6 549.1 525.7 552.2 531.2 C555.3 536.7 558.7 542.9 560 545.3" fill="none" stroke="#2f8a2a" stroke-width="4.56"/>
<path d="M552.2 531.2 C550.9 532.8 546.5 538.2 544.4 540.6 C542.3 543.0 540.5 544.8 539.7 545.6" fill="none" stroke="#2f8a2a" stroke-width="4.56"/>
<path d="M552.2 531.2 L563.4 526.6" fill="none" stroke="#2f8a2a" stroke-width="4.56"/>
<path d="M560 545.3 L547.5 553.4" fill="none" stroke="#2f8a2a" stroke-width="4.56"/>
<path d="M620 529.7 C617.8 529.2 610.1 526.1 606.9 526.6 C603.7 527.1 601.1 529.7 600.6 532.8 C600.1 535.9 604.3 541.1 603.8 545.3 C603.3 549.5 599.6 555.5 597.5 557.8 C595.4 560.0 592.2 558.6 591.2 558.8" fill="none" stroke="#2f8a2a" stroke-width="4.56"/>
<path d="M603.8 545.3 C605.3 546.6 611.3 549.7 613.1 553.1 C614.9 556.5 616.0 563.2 614.7 565.6 C613.4 568.0 606.9 567.2 605.3 567.5" fill="none" stroke="#2f8a2a" stroke-width="4.56"/>
<path d="M535 615.9 C536.6 612.2 540.8 599.6 544.4 593.8 C548.0 588.0 553.3 584.6 556.9 581.2 C560.5 577.8 563.6 574.7 566.2 573.4 C568.9 572.1 571.7 573.4 572.8 573.4" fill="none" stroke="#2f8a2a" stroke-width="4.56"/>
<path d="M556.9 581.2 C560.0 581.0 571.9 578.6 575.6 579.7 C579.3 580.8 578.5 586.4 579.1 587.8" fill="none" stroke="#2f8a2a" stroke-width="4.56"/>
<path d="M560 545.3 C562.6 547.6 570.9 555.5 575.6 559.4 C580.3 563.3 584.5 565.9 588.1 568.8 C591.8 571.7 595.9 575.5 597.5 576.9" fill="none" stroke="#2f8a2a" stroke-width="7.92"/>
<path d="M513.1 523.4 C512.6 521.6 512.0 514.8 510 512.5 C508.0 510.2 502.4 509.9 500.9 509.4" fill="none" stroke="#2f8a2a" stroke-width="3.66"/>
<path d="M519.4 525 C519.9 526.8 521.4 533.5 522.5 535.9 C523.6 538.3 525.3 538.8 525.9 539.4" fill="none" stroke="#2f8a2a" stroke-width="3.66"/>
<path d="M606.9 526.6 C606.6 525.3 607.1 521.7 605.3 518.8 C603.5 515.9 597.7 511.0 596.2 509.4" fill="none" stroke="#2f8a2a" stroke-width="3.66"/>
<path d="M600.6 532.8 L588.4 539.1" fill="none" stroke="#2f8a2a" stroke-width="3.66"/>
<path d="M583.4 529.7 C583.7 528.7 583.4 525.0 585 523.4 C586.6 521.8 591.8 520.8 593.1 520.3" fill="none" stroke="#2f8a2a" stroke-width="3.66"/>
<path d="M556.9 581.2 L547.5 573.4" fill="none" stroke="#2f8a2a" stroke-width="3.66"/>
<path d="M513.1 562.5 L516.2 570.3" fill="none" stroke="#2f8a2a" stroke-width="3.66"/>
<path d="M525.6 571.9 L528.8 565.6" fill="none" stroke="#2f8a2a" stroke-width="3.66"/>
<path d="M511.6 576.6 C511.9 578.4 513.4 584.1 513.1 587.5 C512.8 590.9 510.5 595.3 510 596.9" fill="none" stroke="#2f8a2a" stroke-width="3.66"/>
<path d="M522.5 596.9 L525.6 590.6" fill="none" stroke="#2f8a2a" stroke-width="3.66"/>
<path d="M552.2 606.2 C553.5 605.2 557.1 602.1 560 600 C562.9 597.9 567.8 594.8 569.4 593.8" fill="none" stroke="#2f8a2a" stroke-width="3.66"/>
<path d="M578.8 600 L580.3 593.8" fill="none" stroke="#2f8a2a" stroke-width="3.66"/>
<path d="M591.2 603.1 L589.7 595.3" fill="none" stroke="#2f8a2a" stroke-width="3.66"/>
<path d="M600.6 600 L603.8 587.5" fill="none" stroke="#2f8a2a" stroke-width="3.66"/>
<path d="M617.8 559.4 L620 554.7" fill="none" stroke="#2f8a2a" stroke-width="3.66"/>
<path d="M478.8 601.6 C478.5 602.9 476.9 606.8 477.2 609.4 C477.4 612.0 479.8 615.9 480.3 617.2" fill="none" stroke="#2f8a2a" stroke-width="3.66"/>
<path d="M491.2 607.8 L503.8 601.6" fill="none" stroke="#2f8a2a" stroke-width="3.66"/>
<path d="M569.4 520.3 L560 526.6" fill="none" stroke="#2f8a2a" stroke-width="3.66"/>
<path d="M575.6 545.3 L569.4 548.4" fill="none" stroke="#2f8a2a" stroke-width="3.66"/>
<path d="M616.2 515.6 L620 512.5" fill="none" stroke="#2f8a2a" stroke-width="3.66"/>
<path d="M600 535.9 C600.8 534.6 602.6 529.6 604.7 528.1 C606.8 526.6 609.9 526.1 612.5 526.6 C615.1 527.1 618.2 528.9 620.3 531.2 C622.4 533.5 624.0 537.5 625 540.6 C626.0 543.7 624.8 547.9 626.6 550 C628.4 552.1 632.5 552.6 635.9 553.1 C639.3 553.6 644.0 554.1 646.9 553.1 C649.8 552.1 652.3 547.9 653.4 546.9" fill="none" stroke="#2f8a2a" stroke-width="5.23"/>
<path d="M659.4 551.6 C660.7 552.9 664.9 556.3 667.2 559.4 C669.5 562.5 671.1 568.0 673.4 570.3 C675.7 572.6 678.1 573.1 681.2 573.4 C684.3 573.7 689.5 573.2 692.2 571.9 C694.9 570.6 696.4 566.6 697.2 565.6" fill="none" stroke="#2f8a2a" stroke-width="5.23"/>
<path d="M600 548.4 C601.6 548.9 607.0 549.8 609.4 551.6 C611.8 553.4 613.6 556.8 614.1 559.4 C614.6 562.0 614.1 565.9 612.5 567.2 C610.9 568.6 606.0 567.5 604.7 567.5" fill="none" stroke="#2f8a2a" stroke-width="4.56"/>
<path d="M626.6 550 C627.4 551.6 629.9 556.3 631.2 559.4 C632.5 562.5 632.8 566.1 634.4 568.8 C636.0 571.4 639.6 574.2 640.6 575.3" fill="none" stroke="#2f8a2a" stroke-width="4.56"/>
<path d="M634.4 568.8 C632.8 569.6 627.4 571.5 625 573.4 C622.6 575.3 621.1 578.9 620.3 580" fill="none" stroke="#2f8a2a" stroke-width="4.56"/>
<path d="M646.9 553.1 C647.4 555.2 648.7 561.6 650 565.6 C651.3 569.6 653.9 575.0 654.7 576.9" fill="none" stroke="#2f8a2a" stroke-width="4.56"/>
<path d="M620.3 551.6 L617.2 562.8" fill="none" stroke="#2f8a2a" stroke-width="4.56"/>
<path d="M667.2 559.4 C668.8 558.4 673.2 553.9 676.6 553.1 C680.0 552.3 684.1 553.9 687.5 554.7 C690.9 555.5 695.6 557.5 697.2 558.1" fill="none" stroke="#2f8a2a" stroke-width="4.56"/>
<path d="M668.8 561.7 C670.6 561.3 676.5 559.3 679.7 559.4 C682.9 559.5 686.4 562.0 687.8 562.5" fill="none" stroke="#2f8a2a" stroke-width="4.56"/>
<path d="M659.4 562.5 C659.4 560.7 658.4 554.5 659.4 551.6 C660.4 548.7 663.5 548.2 665.6 545.3 C667.7 542.4 671.1 536.2 672.2 534.4" fill="none" stroke="#2f8a2a" stroke-width="4.56"/>
<path d="M701.6 571.9 C702.4 572.7 704.9 573.0 706.2 576.6 C707.6 580.2 709.1 590.9 709.7 593.8" fill="none" stroke="#2f8a2a" stroke-width="4.56"/>
<path d="M695.3 584.4 C695.8 587.0 697.0 595.8 698.4 600 C699.8 604.2 702.6 607.8 703.4 609.4" fill="none" stroke="#2f8a2a" stroke-width="4.56"/>
<path d="M664.1 531.2 L669.1 526.6" fill="none" stroke="#2f8a2a" stroke-width="3.66"/>
<path d="M679.7 531.2 L680.6 537.5" fill="none" stroke="#2f8a2a" stroke-width="3.66"/>
<path d="M685.9 532.8 L686.9 545.3" fill="none" stroke="#2f8a2a" stroke-width="3.66"/>
<path d="M693.8 535.9 C695.1 538.5 700.0 548.0 701.6 551.6 C703.2 555.2 703.1 556.8 703.4 557.8" fill="none" stroke="#2f8a2a" stroke-width="3.66"/>
<path d="M633.6 517.2 C634.0 518.5 633.9 522.9 635.9 525 C637.9 527.1 644.0 528.9 645.6 529.7" fill="none" stroke="#2f8a2a" stroke-width="3.66"/>
<path d="M657.8 520.3 L658.1 528.1" fill="none" stroke="#2f8a2a" stroke-width="3.66"/>
<path d="M712.5 567.2 L715.9 576.6" fill="none" stroke="#2f8a2a" stroke-width="3.66"/>
<path d="M625 573.4 L628.4 580" fill="none" stroke="#2f8a2a" stroke-width="3.66"/>
<path d="M664.1 576.6 C664.4 578.7 665.8 585.7 665.6 589.1 C665.4 592.5 663.3 595.6 662.8 596.9" fill="none" stroke="#2f8a2a" stroke-width="3.66"/>
<path d="M675 585.9 C674.5 587.7 672.9 593.0 671.9 596.9 C670.9 600.8 668.5 606.8 668.8 609.4 C669.0 612.0 671.3 612.5 673.4 612.5 C675.5 612.5 679.3 611.0 681.2 609.4 C683.1 607.8 684.1 604.1 684.7 603.1" fill="none" stroke="#2f8a2a" stroke-width="3.66"/>
<path d="M656.2 593.8 C657.0 594.8 660.1 596.9 660.9 600 C661.7 603.1 659.8 609.2 660.9 612.5 C662.0 615.8 666.4 618.8 667.5 620" fill="none" stroke="#2f8a2a" stroke-width="3.66"/>
<path d="M639.1 593.8 C638.8 595.1 636.5 599.0 637.5 601.6 C638.5 604.2 642.9 607.1 645.3 609.4 C647.6 611.7 650.0 613.8 651.6 615.6 C653.2 617.4 654.4 619.3 655 620" fill="none" stroke="#2f8a2a" stroke-width="3.66"/>
<path d="M628.1 609.4 L633.1 617.2" fill="none" stroke="#2f8a2a" stroke-width="3.66"/>
<path d="M600 603.1 L608.1 607.8" fill="none" stroke="#2f8a2a" stroke-width="3.66"/>
<path d="M603.1 589.1 L606.6 598.4" fill="none" stroke="#2f8a2a" stroke-width="3.66"/>
<path d="M501.6 600 C502.9 600.5 506.0 602.3 509.4 603.1 C512.8 603.9 517.7 603.9 521.9 604.7 C526.1 605.5 531.3 606.5 534.4 607.8 C537.5 609.1 536.3 611.2 540.6 612.5 C544.9 613.8 556.8 615.1 560 615.6" fill="none" stroke="#2f8a2a" stroke-width="4.56"/>
<path d="M537.5 646.9 C536.2 648.2 532.1 652.4 529.7 654.7 C527.4 657.0 525.2 659.1 523.4 660.9 C521.6 662.7 519.8 663.5 518.8 665.6 C517.8 667.7 517.7 672.1 517.5 673.4" fill="none" stroke="#2f8a2a" stroke-width="4.56"/>
<path d="M557.8 650 C557.3 651.3 556.5 654.9 554.7 657.8 C552.9 660.7 549.2 665.4 546.9 667.2 C544.5 669.0 542.1 667.5 540.6 668.8 C539.1 670.1 538.3 674.0 537.8 675" fill="none" stroke="#2f8a2a" stroke-width="4.56"/>
<path d="M468.8 600 C469.8 600.8 473.4 602.6 475 604.7 C476.6 606.8 476.8 610.1 478.1 612.5 C479.5 614.9 482.3 617.8 483.1 618.8" fill="none" stroke="#2f8a2a" stroke-width="4.11"/>
<path d="M515.6 606.2 C516.1 608.3 517.2 615.1 518.8 618.8 C520.4 622.4 521.9 625.5 525 628.1 C528.1 630.7 534.3 632.8 537.5 634.4 C540.7 636.0 543.0 637.0 544.1 637.5" fill="none" stroke="#2f8a2a" stroke-width="4.11"/>
<path d="M554.7 615.6 C554.4 617.7 553.6 624.5 553.1 628.1 C552.6 631.8 552.1 635.9 551.9 637.5" fill="none" stroke="#2f8a2a" stroke-width="4.11"/>
<path d="M503.1 629.7 C503.1 631.3 503.9 636.2 503.1 639.1 C502.3 642.0 499.9 644.8 498.4 646.9 C496.9 649.0 494.8 650.8 494.1 651.6" fill="none" stroke="#2f8a2a" stroke-width="4.11"/>
<path d="M503.1 639.1 C504.7 638.8 509.3 637.5 512.5 637.5 C515.7 637.5 520.6 638.8 522.2 639.1" fill="none" stroke="#2f8a2a" stroke-width="4.11"/>
<path d="M476.6 635.9 C476.9 637.5 478.0 641.4 478.1 645.3 C478.2 649.2 477.6 657.0 477.5 659.4" fill="none" stroke="#2f8a2a" stroke-width="4.11"/>
<path d="M478.1 607.8 C479.7 607.8 485.5 607.1 487.5 607.8 C489.5 608.5 489.6 611.2 490 611.9" fill="none" stroke="#2f8a2a" stroke-width="3.44"/>
<path d="M478.1 612.5 L473.8 615.6" fill="none" stroke="#2f8a2a" stroke-width="3.44"/>
<path d="M509.4 603.1 C508.1 604.1 502.9 607.6 501.6 609.4 C500.4 611.2 501.8 613.3 501.9 614.1" fill="none" stroke="#2f8a2a" stroke-width="3.44"/>
<path d="M540.6 612.5 L544.1 621.9" fill="none" stroke="#2f8a2a" stroke-width="3.44"/>
<path d="M490.6 639.1 L498.4 645.3" fill="none" stroke="#2f8a2a" stroke-width="3.44"/>
<path d="M509.4 651.6 C510.0 652.1 513.5 654.1 512.8 654.7 C512.1 655.3 506.3 655.0 505 655" fill="none" stroke="#2f8a2a" stroke-width="3.44"/>
<path d="M500 662.5 L498.8 673.4" fill="none" stroke="#2f8a2a" stroke-width="3.44"/>
<path d="M506.2 670.3 L507.2 676.6" fill="none" stroke="#2f8a2a" stroke-width="3.44"/>
<path d="M540.6 659.4 L542.5 667.2" fill="none" stroke="#2f8a2a" stroke-width="3.44"/>
<path d="M560 681.2 L554.7 684.4" fill="none" stroke="#2f8a2a" stroke-width="3.44"/>
<path d="M560 612.5 C562.6 612.8 571.4 614.4 575.6 614.1 C579.8 613.8 581.6 612.2 585 610.9 C588.4 609.6 592.2 607.5 595.9 606.2 C599.6 604.9 605.3 603.6 607.2 603.1" fill="none" stroke="#2f8a2a" stroke-width="4.56"/>
<path d="M628.8 610.9 C629.6 612.2 630.8 617.2 633.4 618.8 C636.0 620.4 641.3 620.3 644.4 620.3 C647.5 620.3 650.6 618.3 652.2 618.8 C653.8 619.3 653.8 622.6 654.1 623.4" fill="none" stroke="#2f8a2a" stroke-width="4.56"/>
<path d="M660 600 C660.0 601.3 659.0 605.2 660 607.8 C661.0 610.4 665.2 613.0 666.2 615.6 C667.2 618.2 666.9 621.0 666.2 623.4 C665.5 625.8 662.6 628.7 661.9 629.7" fill="none" stroke="#2f8a2a" stroke-width="4.56"/>
<path d="M622.5 639.1 C623.3 640.1 626.2 643.0 627.2 645.3 C628.2 647.6 628.2 650.8 628.8 653.1 C629.4 655.5 630.3 658.4 630.6 659.4" fill="none" stroke="#2f8a2a" stroke-width="4.56"/>
<path d="M580.3 614.1 C580.8 616.2 582.0 622.2 583.4 626.6 C584.8 631.0 587.6 638.3 588.4 640.6" fill="none" stroke="#2f8a2a" stroke-width="4.11"/>
<path d="M560 629.7 C561.0 630.7 564.6 634.1 566.2 635.9 C567.8 637.7 569.1 639.8 569.7 640.6" fill="none" stroke="#2f8a2a" stroke-width="4.11"/>
<path d="M638.1 600 C638.6 601.0 639.4 604.1 641.2 606.2 C643.0 608.3 647.3 610.4 649.1 612.5 C650.9 614.6 651.7 617.8 652.2 618.8" fill="none" stroke="#2f8a2a" stroke-width="4.11"/>
<path d="M666.2 615.6 C666.7 615.1 668.8 614.6 669.4 612.5 C670.0 610.4 669.7 604.7 669.7 603.1" fill="none" stroke="#2f8a2a" stroke-width="4.11"/>
<path d="M669.4 610.9 C671.5 610.9 679.5 611.9 681.9 610.9 C684.3 609.9 683.5 605.7 683.8 604.7" fill="none" stroke="#2f8a2a" stroke-width="4.11"/>
<path d="M699.1 600 C699.4 601.0 699.5 604.9 700.6 606.2 C701.7 607.5 704.8 607.5 705.6 607.8" fill="none" stroke="#2f8a2a" stroke-width="4.11"/>
<path d="M575.6 648.4 C575.9 650.8 578.2 659.4 577.2 662.5 C576.2 665.6 571.8 664.9 569.4 667.2 C567.0 669.6 564.7 674.2 563.1 676.6 C561.5 679.0 560.5 680.8 560 681.6" fill="none" stroke="#2f8a2a" stroke-width="4.11"/>
<path d="M592.8 670.3 C592.5 671.6 592.2 675.8 591.2 678.1 C590.2 680.5 587.6 683.4 586.9 684.4" fill="none" stroke="#2f8a2a" stroke-width="4.11"/>
<path d="M622.5 617.2 C622.5 618.5 623.2 622.7 622.5 625 C621.8 627.3 618.7 629.1 618.1 631.2 C617.5 633.3 618.7 636.5 618.8 637.5" fill="none" stroke="#2f8a2a" stroke-width="6.24"/>
<path d="M595.9 606.2 L599.4 614.1" fill="none" stroke="#2f8a2a" stroke-width="3.22"/>
<path d="M591.2 600 L593.1 606.2" fill="none" stroke="#2f8a2a" stroke-width="3.22"/>
<path d="M583.4 631.2 L581.9 637.8" fill="none" stroke="#2f8a2a" stroke-width="3.22"/>
<path d="M591.2 628.1 L599.4 631.2" fill="none" stroke="#2f8a2a" stroke-width="3.22"/>
<path d="M613.1 617.2 L616.2 625.3" fill="none" stroke="#2f8a2a" stroke-width="3.22"/>
<path d="M606.9 637.5 L613.4 636.7" fill="none" stroke="#2f8a2a" stroke-width="3.22"/>
<path d="M691.2 612.5 L693.1 617.2" fill="none" stroke="#2f8a2a" stroke-width="3.22"/>
<path d="M611.6 651.6 C612.9 652.4 616.8 655.7 619.4 656.2 C622.0 656.7 626.1 655.0 627.5 654.7" fill="none" stroke="#2f8a2a" stroke-width="3.22"/>
<path d="M569.4 656.2 L571.2 665.6" fill="none" stroke="#2f8a2a" stroke-width="3.22"/>
<path d="M583.4 660.9 L577.5 662.5" fill="none" stroke="#2f8a2a" stroke-width="3.22"/>
<path d="M603.8 662.5 C605.1 663.5 609.2 667.2 611.6 668.8 C614.0 670.4 617.0 671.4 618.1 671.9" fill="none" stroke="#2f8a2a" stroke-width="3.22"/>
<path d="M575.6 684.4 L576.6 690.6" fill="none" stroke="#2f8a2a" stroke-width="3.22"/>
<path d="M566.2 684.4 L567.2 689.1" fill="none" stroke="#2f8a2a" stroke-width="3.22"/>
<path d="M364 458.9 C365.0 458.6 367.8 458.3 370.2 457.3 C372.6 456.3 375.8 454.2 378.1 452.9 C380.5 451.6 382.2 448.5 384.3 449.5 C386.4 450.5 390.1 455.5 390.6 458.9 C391.1 462.3 387.4 466.7 387.4 469.8 C387.4 472.9 390.1 476.3 390.6 477.6" fill="none" stroke="#24e42c" stroke-width="3.36"/>
<path d="M466.3 487 C467.5 488.0 470.9 491.6 473.4 493.2 C475.9 494.8 479.1 494.8 481.2 496.4 C483.3 498.0 485.1 501.6 485.9 502.6" fill="none" stroke="#24e42c" stroke-width="3.36"/>
<path d="M390.6 476.8 C393.2 476.6 402.6 474.4 406.2 475.3 C409.8 476.2 409.0 479.8 412.4 482.3 C415.8 484.8 421.6 487.6 426.5 490.1 C431.4 492.6 437.9 496.0 442.1 497.2 C446.3 498.4 447.9 498.1 451.5 497.2 C455.1 496.3 461.4 493.8 464 491.7 C466.6 489.6 466.6 485.9 467.1 484.7" fill="none" stroke="#24e42c" stroke-width="4.03"/>
<path d="M390.6 477.6 C391.0 479.4 391.3 485.5 392.9 488.6 C394.4 491.7 397.2 494.3 399.9 496.4 C402.6 498.5 406.7 499.3 409.3 501.1 C411.9 502.9 412.7 505.5 415.6 507.3 C418.5 509.1 423.9 509.9 426.5 512 C429.1 514.1 430.4 518.5 431.2 519.8" fill="none" stroke="#24e42c" stroke-width="2.91"/>
<path d="M442.1 497.2 C442.6 498.9 444.1 503.8 445.2 507.3 C446.2 510.8 447.7 515.3 448.4 518.2 C449.1 521.1 449.1 523.5 449.2 524.5" fill="none" stroke="#24e42c" stroke-width="2.91"/>
<path d="M367.9 484.7 C368.8 483.8 371.4 481.2 373.4 479.2 C375.3 477.2 377.3 474.5 379.6 472.9 C381.9 471.3 386.1 470.3 387.4 469.8" fill="none" stroke="#24e42c" stroke-width="2.91"/>
<path d="M448.4 524.5 C450.0 523.7 455.7 521.9 457.8 519.8 C459.9 517.7 460.4 513.3 460.9 512" fill="none" stroke="#24e42c" stroke-width="1.70"/>
<path d="M457.8 519.8 L464 521.4" fill="none" stroke="#24e42c" stroke-width="1.70"/>
<path d="M495.2 519.8 C494.2 520.1 490.8 520.6 489 521.4 C487.2 522.2 485.1 524.0 484.3 524.5" fill="none" stroke="#24e42c" stroke-width="1.70"/>
<path d="M517.1 469.8 C516.1 471.1 512.4 474.7 510.9 477.6 C509.3 480.5 508.3 485.4 507.8 487" fill="none" stroke="#24e42c" stroke-width="1.70"/>
<path d="M524 488.6 C523.1 489.9 520.6 494.3 518.7 496.4 C516.8 498.5 513.5 500.3 512.4 501.1" fill="none" stroke="#24e42c" stroke-width="1.70"/>
<path d="M386.7 507 C388.1 507.1 392.8 506.5 395.3 507.8 C397.8 509.1 399.5 512.2 401.6 514.8 C403.7 517.4 406.5 519.8 407.8 523.4 C409.1 527.0 409.1 534.1 409.4 536.2" fill="none" stroke="#24e42c" stroke-width="4.03"/>
<path d="M401.6 514.8 C403.4 515.2 409.4 515.8 412.5 517.2 C415.6 518.6 418.5 521.3 420.3 523.4 C422.1 525.5 422.9 528.7 423.4 529.7" fill="none" stroke="#24e42c" stroke-width="3.36"/>
<path d="M409.4 503.1 C410.4 503.9 413.0 506.4 415.6 507.8 C418.2 509.2 422.4 510.1 425 511.7 C427.6 513.3 430.2 516.5 431.2 517.5" fill="none" stroke="#24e42c" stroke-width="3.36"/>
<path d="M385.2 537.5 C385.6 538.6 386.1 542.8 387.5 544.1 C388.9 545.5 392.2 545.9 393.8 545.6 C395.4 545.3 396.6 542.8 397.2 542.2" fill="none" stroke="#24e42c" stroke-width="3.36"/>
<path d="M443.8 500 C444.3 502.1 445.9 509.1 446.9 512.5 C447.9 515.9 449.5 517.2 450 520.3 C450.5 523.4 449.5 527.8 450 531.2 C450.5 534.6 452.3 537.7 453.1 540.6 C453.9 543.5 455.2 545.5 454.7 548.4 C454.2 551.3 452.4 555.2 450 557.8 C447.6 560.4 443.2 562.3 440.6 564.1 C438.1 565.9 435.7 568.0 434.7 568.8" fill="none" stroke="#24e42c" stroke-width="3.36"/>
<path d="M395.3 507.8 L397.2 503.1" fill="none" stroke="#24e42c" stroke-width="1.87"/>
<path d="M412.5 517.2 L415.9 512.5" fill="none" stroke="#24e42c" stroke-width="1.87"/>
<path d="M420.3 523.4 L425.3 521.9" fill="none" stroke="#24e42c" stroke-width="1.87"/>
<path d="M425 511.7 L428.4 507.8" fill="none" stroke="#24e42c" stroke-width="1.87"/>
<path d="M425 542.2 C425.8 543.8 429.4 548.7 429.7 551.6 C430.0 554.5 427.7 557.5 426.6 559.4 C425.6 561.3 423.9 562.2 423.4 562.8" fill="none" stroke="#24e42c" stroke-width="1.87"/>
<path d="M446.9 578.1 C446.4 579.7 444.6 584.9 443.8 587.5 C443.0 590.1 442.5 592.8 442.2 593.8" fill="none" stroke="#24e42c" stroke-width="1.87"/>
<path d="M454.7 582.8 L456.2 593.8" fill="none" stroke="#24e42c" stroke-width="1.87"/>
<path d="M456.2 506.2 C455.8 507.5 453.9 511.5 453.9 514.1 C453.9 516.7 455.8 520.6 456.2 521.9" fill="none" stroke="#24e42c" stroke-width="1.87"/>
<path d="M400 523.8 C402.1 523.6 408.8 522.1 412.5 522.8 C416.2 523.5 420.8 527.0 422.5 527.8" fill="none" stroke="#24e42c" stroke-width="5.60"/>
<path d="M407.5 525 L407.8 537.5" fill="none" stroke="#24e42c" stroke-width="4.48"/>
<path d="M458.8 532.5 C459.8 532.7 462.3 533.2 465 533.8 C467.7 534.4 472.5 535.0 475 536.2 C477.5 537.4 477.5 539.7 480 541.2 C482.5 542.7 488.3 544.4 490 545" fill="none" stroke="#24e42c" stroke-width="3.81"/>
<path d="M473.8 551.2 C472.5 552.2 468.5 555.4 466.2 557.5 C463.9 559.6 460.8 561.9 460 563.8 C459.2 565.7 461.0 568.0 461.2 568.8" fill="none" stroke="#24e42c" stroke-width="3.81"/>
<path d="M485 555 C483.3 556.0 478.3 559.3 475 561.2 C471.7 563.1 466.7 565.4 465 566.2" fill="none" stroke="#24e42c" stroke-width="3.81"/>
<path d="M490 563.8 C488.8 564.8 484.6 568.1 482.5 570 C480.4 571.9 477.9 573.1 477.5 575 C477.1 576.9 479.6 580.2 480 581.2" fill="none" stroke="#24e42c" stroke-width="3.36"/>
<path d="M470 597.5 C470.8 598.3 473.8 600.4 475 602.5 C476.2 604.6 475.4 608.8 477.5 610 C479.6 611.2 485.6 609.1 487.5 610 C489.4 610.9 488.6 614.3 488.8 615.2" fill="none" stroke="#24e42c" stroke-width="3.36"/>
<path d="M421.2 546.2 C422.0 547.9 424.9 553.9 426.2 556.2 C427.5 558.5 428.4 559.4 428.8 560" fill="none" stroke="#24e42c" stroke-width="2.69"/>
<path d="M436.2 543.8 C435.6 545.2 433.7 549.8 432.5 552.5 C431.3 555.2 430.1 558.3 428.8 560 C427.6 561.7 425.6 562.3 425 562.8" fill="none" stroke="#24e42c" stroke-width="2.69"/>
<path d="M470 520 C470.8 520.6 472.5 523.2 475 523.8 C477.5 524.4 483.1 523.0 485 523.8 C486.9 524.6 486.0 528.0 486.2 528.8" fill="none" stroke="#24e42c" stroke-width="2.69"/>
<path d="M480.3 592.2 C482.1 590.6 488.1 585.9 491.2 582.8 C494.3 579.7 497.3 577.0 499.1 573.4 C500.9 569.8 500.4 565.3 502.2 560.9 C504.0 556.5 507.9 550.3 510 546.9 C512.1 543.5 512.1 540.9 514.7 540.6 C517.3 540.3 522.2 543.5 525.6 545.3 C529.0 547.1 533.4 550.5 535 551.6" fill="none" stroke="#24e42c" stroke-width="3.81"/>
<path d="M499.1 573.4 C501.2 573.9 507.2 576.9 511.6 576.6 C516.0 576.4 521.2 573.7 525.6 571.9 C530.0 570.1 536.0 566.6 538.1 565.6" fill="none" stroke="#24e42c" stroke-width="3.81"/>
<path d="M499.1 600 C501.2 600.6 507.2 602.9 511.6 603.9 C516.0 604.9 521.2 605.3 525.6 606.2 C530.0 607.1 533.4 608.0 538.1 609.4 C542.8 610.8 548.8 613.8 553.8 614.8 C558.8 615.8 563.1 615.6 567.8 615.6 C572.5 615.6 579.5 614.9 581.9 614.8" fill="none" stroke="#24e42c" stroke-width="3.81"/>
<path d="M485 529.7 C486.8 528.4 491.2 523.0 495.9 521.9 C500.6 520.8 507.6 523.7 513.1 523.4 C518.6 523.1 524.6 522.6 528.8 520.3 C533.0 518.0 536.5 512.8 538.1 509.4 C539.7 506.0 538.1 501.6 538.1 500" fill="none" stroke="#24e42c" stroke-width="3.36"/>
<path d="M541.2 512.5 C543.0 515.6 549.1 525.7 552.2 531.2 C555.3 536.7 558.7 542.9 560 545.3" fill="none" stroke="#24e42c" stroke-width="3.36"/>
<path d="M552.2 531.2 C550.9 532.8 546.5 538.2 544.4 540.6 C542.3 543.0 540.5 544.8 539.7 545.6" fill="none" stroke="#24e42c" stroke-width="3.36"/>
<path d="M552.2 531.2 L563.4 526.6" fill="none" stroke="#24e42c" stroke-width="3.36"/>
<path d="M560 545.3 L547.5 553.4" fill="none" stroke="#24e42c" stroke-width="3.36"/>
<path d="M620 529.7 C617.8 529.2 610.1 526.1 606.9 526.6 C603.7 527.1 601.1 529.7 600.6 532.8 C600.1 535.9 604.3 541.1 603.8 545.3 C603.3 549.5 599.6 555.5 597.5 557.8 C595.4 560.0 592.2 558.6 591.2 558.8" fill="none" stroke="#24e42c" stroke-width="3.36"/>
<path d="M603.8 545.3 C605.3 546.6 611.3 549.7 613.1 553.1 C614.9 556.5 616.0 563.2 614.7 565.6 C613.4 568.0 606.9 567.2 605.3 567.5" fill="none" stroke="#24e42c" stroke-width="3.36"/>
<path d="M535 615.9 C536.6 612.2 540.8 599.6 544.4 593.8 C548.0 588.0 553.3 584.6 556.9 581.2 C560.5 577.8 563.6 574.7 566.2 573.4 C568.9 572.1 571.7 573.4 572.8 573.4" fill="none" stroke="#24e42c" stroke-width="3.36"/>
<path d="M556.9 581.2 C560.0 581.0 571.9 578.6 575.6 579.7 C579.3 580.8 578.5 586.4 579.1 587.8" fill="none" stroke="#24e42c" stroke-width="3.36"/>
<path d="M560 545.3 C562.6 547.6 570.9 555.5 575.6 559.4 C580.3 563.3 584.5 565.9 588.1 568.8 C591.8 571.7 595.9 575.5 597.5 576.9" fill="none" stroke="#24e42c" stroke-width="6.72"/>
<path d="M513.1 523.4 C512.6 521.6 512.0 514.8 510 512.5 C508.0 510.2 502.4 509.9 500.9 509.4" fill="none" stroke="#24e42c" stroke-width="1.87"/>
<path d="M519.4 525 C519.9 526.8 521.4 533.5 522.5 535.9 C523.6 538.3 525.3 538.8 525.9 539.4" fill="none" stroke="#24e42c" stroke-width="1.87"/>
<path d="M606.9 526.6 C606.6 525.3 607.1 521.7 605.3 518.8 C603.5 515.9 597.7 511.0 596.2 509.4" fill="none" stroke="#24e42c" stroke-width="1.87"/>
<path d="M600.6 532.8 L588.4 539.1" fill="none" stroke="#24e42c" stroke-width="1.87"/>
<path d="M583.4 529.7 C583.7 528.7 583.4 525.0 585 523.4 C586.6 521.8 591.8 520.8 593.1 520.3" fill="none" stroke="#24e42c" stroke-width="1.87"/>
<path d="M556.9 581.2 L547.5 573.4" fill="none" stroke="#24e42c" stroke-width="1.87"/>
<path d="M513.1 562.5 L516.2 570.3" fill="none" stroke="#24e42c" stroke-width="1.87"/>
<path d="M525.6 571.9 L528.8 565.6" fill="none" stroke="#24e42c" stroke-width="1.87"/>
<path d="M511.6 576.6 C511.9 578.4 513.4 584.1 513.1 587.5 C512.8 590.9 510.5 595.3 510 596.9" fill="none" stroke="#24e42c" stroke-width="1.87"/>
<path d="M522.5 596.9 L525.6 590.6" fill="none" stroke="#24e42c" stroke-width="1.87"/>
<path d="M552.2 606.2 C553.5 605.2 557.1 602.1 560 600 C562.9 597.9 567.8 594.8 569.4 593.8" fill="none" stroke="#24e42c" stroke-width="1.87"/>
<path d="M578.8 600 L580.3 593.8" fill="none" stroke="#24e42c" stroke-width="1.87"/>
<path d="M591.2 603.1 L589.7 595.3" fill="none" stroke="#24e42c" stroke-width="1.87"/>
<path d="M600.6 600 L603.8 587.5" fill="none" stroke="#24e42c" stroke-width="1.87"/>
<path d="M617.8 559.4 L620 554.7" fill="none" stroke="#24e42c" stroke-width="1.87"/>
<path d="M478.8 601.6 C478.5 602.9 476.9 606.8 477.2 609.4 C477.4 612.0 479.8 615.9 480.3 617.2" fill="none" stroke="#24e42c" stroke-width="1.87"/>
<path d="M491.2 607.8 L503.8 601.6" fill="none" stroke="#24e42c" stroke-width="1.87"/>
<path d="M569.4 520.3 L560 526.6" fill="none" stroke="#24e42c" stroke-width="1.87"/>
<path d="M575.6 545.3 L569.4 548.4" fill="none" stroke="#24e42c" stroke-width="1.87"/>
<path d="M616.2 515.6 L620 512.5" fill="none" stroke="#24e42c" stroke-width="1.87"/>
<path d="M600 535.9 C600.8 534.6 602.6 529.6 604.7 528.1 C606.8 526.6 609.9 526.1 612.5 526.6 C615.1 527.1 618.2 528.9 620.3 531.2 C622.4 533.5 624.0 537.5 625 540.6 C626.0 543.7 624.8 547.9 626.6 550 C628.4 552.1 632.5 552.6 635.9 553.1 C639.3 553.6 644.0 554.1 646.9 553.1 C649.8 552.1 652.3 547.9 653.4 546.9" fill="none" stroke="#24e42c" stroke-width="4.03"/>
<path d="M659.4 551.6 C660.7 552.9 664.9 556.3 667.2 559.4 C669.5 562.5 671.1 568.0 673.4 570.3 C675.7 572.6 678.1 573.1 681.2 573.4 C684.3 573.7 689.5 573.2 692.2 571.9 C694.9 570.6 696.4 566.6 697.2 565.6" fill="none" stroke="#24e42c" stroke-width="4.03"/>
<path d="M600 548.4 C601.6 548.9 607.0 549.8 609.4 551.6 C611.8 553.4 613.6 556.8 614.1 559.4 C614.6 562.0 614.1 565.9 612.5 567.2 C610.9 568.6 606.0 567.5 604.7 567.5" fill="none" stroke="#24e42c" stroke-width="3.36"/>
<path d="M626.6 550 C627.4 551.6 629.9 556.3 631.2 559.4 C632.5 562.5 632.8 566.1 634.4 568.8 C636.0 571.4 639.6 574.2 640.6 575.3" fill="none" stroke="#24e42c" stroke-width="3.36"/>
<path d="M634.4 568.8 C632.8 569.6 627.4 571.5 625 573.4 C622.6 575.3 621.1 578.9 620.3 580" fill="none" stroke="#24e42c" stroke-width="3.36"/>
<path d="M646.9 553.1 C647.4 555.2 648.7 561.6 650 565.6 C651.3 569.6 653.9 575.0 654.7 576.9" fill="none" stroke="#24e42c" stroke-width="3.36"/>
<path d="M620.3 551.6 L617.2 562.8" fill="none" stroke="#24e42c" stroke-width="3.36"/>
<path d="M667.2 559.4 C668.8 558.4 673.2 553.9 676.6 553.1 C680.0 552.3 684.1 553.9 687.5 554.7 C690.9 555.5 695.6 557.5 697.2 558.1" fill="none" stroke="#24e42c" stroke-width="3.36"/>
<path d="M668.8 561.7 C670.6 561.3 676.5 559.3 679.7 559.4 C682.9 559.5 686.4 562.0 687.8 562.5" fill="none" stroke="#24e42c" stroke-width="3.36"/>
<path d="M659.4 562.5 C659.4 560.7 658.4 554.5 659.4 551.6 C660.4 548.7 663.5 548.2 665.6 545.3 C667.7 542.4 671.1 536.2 672.2 534.4" fill="none" stroke="#24e42c" stroke-width="3.36"/>
<path d="M701.6 571.9 C702.4 572.7 704.9 573.0 706.2 576.6 C707.6 580.2 709.1 590.9 709.7 593.8" fill="none" stroke="#24e42c" stroke-width="3.36"/>
<path d="M695.3 584.4 C695.8 587.0 697.0 595.8 698.4 600 C699.8 604.2 702.6 607.8 703.4 609.4" fill="none" stroke="#24e42c" stroke-width="3.36"/>
<path d="M664.1 531.2 L669.1 526.6" fill="none" stroke="#24e42c" stroke-width="1.87"/>
<path d="M679.7 531.2 L680.6 537.5" fill="none" stroke="#24e42c" stroke-width="1.87"/>
<path d="M685.9 532.8 L686.9 545.3" fill="none" stroke="#24e42c" stroke-width="1.87"/>
<path d="M693.8 535.9 C695.1 538.5 700.0 548.0 701.6 551.6 C703.2 555.2 703.1 556.8 703.4 557.8" fill="none" stroke="#24e42c" stroke-width="1.87"/>
<path d="M633.6 517.2 C634.0 518.5 633.9 522.9 635.9 525 C637.9 527.1 644.0 528.9 645.6 529.7" fill="none" stroke="#24e42c" stroke-width="1.87"/>
<path d="M657.8 520.3 L658.1 528.1" fill="none" stroke="#24e42c" stroke-width="1.87"/>
<path d="M712.5 567.2 L715.9 576.6" fill="none" stroke="#24e42c" stroke-width="1.87"/>
<path d="M625 573.4 L628.4 580" fill="none" stroke="#24e42c" stroke-width="1.87"/>
<path d="M664.1 576.6 C664.4 578.7 665.8 585.7 665.6 589.1 C665.4 592.5 663.3 595.6 662.8 596.9" fill="none" stroke="#24e42c" stroke-width="1.87"/>
<path d="M675 585.9 C674.5 587.7 672.9 593.0 671.9 596.9 C670.9 600.8 668.5 606.8 668.8 609.4 C669.0 612.0 671.3 612.5 673.4 612.5 C675.5 612.5 679.3 611.0 681.2 609.4 C683.1 607.8 684.1 604.1 684.7 603.1" fill="none" stroke="#24e42c" stroke-width="1.87"/>
<path d="M656.2 593.8 C657.0 594.8 660.1 596.9 660.9 600 C661.7 603.1 659.8 609.2 660.9 612.5 C662.0 615.8 666.4 618.8 667.5 620" fill="none" stroke="#24e42c" stroke-width="1.87"/>
<path d="M639.1 593.8 C638.8 595.1 636.5 599.0 637.5 601.6 C638.5 604.2 642.9 607.1 645.3 609.4 C647.6 611.7 650.0 613.8 651.6 615.6 C653.2 617.4 654.4 619.3 655 620" fill="none" stroke="#24e42c" stroke-width="1.87"/>
<path d="M628.1 609.4 L633.1 617.2" fill="none" stroke="#24e42c" stroke-width="1.87"/>
<path d="M600 603.1 L608.1 607.8" fill="none" stroke="#24e42c" stroke-width="1.87"/>
<path d="M603.1 589.1 L606.6 598.4" fill="none" stroke="#24e42c" stroke-width="1.87"/>
<path d="M501.6 600 C502.9 600.5 506.0 602.3 509.4 603.1 C512.8 603.9 517.7 603.9 521.9 604.7 C526.1 605.5 531.3 606.5 534.4 607.8 C537.5 609.1 536.3 611.2 540.6 612.5 C544.9 613.8 556.8 615.1 560 615.6" fill="none" stroke="#24e42c" stroke-width="3.36"/>
<path d="M537.5 646.9 C536.2 648.2 532.1 652.4 529.7 654.7 C527.4 657.0 525.2 659.1 523.4 660.9 C521.6 662.7 519.8 663.5 518.8 665.6 C517.8 667.7 517.7 672.1 517.5 673.4" fill="none" stroke="#24e42c" stroke-width="3.36"/>
<path d="M557.8 650 C557.3 651.3 556.5 654.9 554.7 657.8 C552.9 660.7 549.2 665.4 546.9 667.2 C544.5 669.0 542.1 667.5 540.6 668.8 C539.1 670.1 538.3 674.0 537.8 675" fill="none" stroke="#24e42c" stroke-width="3.36"/>
<path d="M468.8 600 C469.8 600.8 473.4 602.6 475 604.7 C476.6 606.8 476.8 610.1 478.1 612.5 C479.5 614.9 482.3 617.8 483.1 618.8" fill="none" stroke="#24e42c" stroke-width="2.91"/>
<path d="M515.6 606.2 C516.1 608.3 517.2 615.1 518.8 618.8 C520.4 622.4 521.9 625.5 525 628.1 C528.1 630.7 534.3 632.8 537.5 634.4 C540.7 636.0 543.0 637.0 544.1 637.5" fill="none" stroke="#24e42c" stroke-width="2.91"/>
<path d="M554.7 615.6 C554.4 617.7 553.6 624.5 553.1 628.1 C552.6 631.8 552.1 635.9 551.9 637.5" fill="none" stroke="#24e42c" stroke-width="2.91"/>
<path d="M503.1 629.7 C503.1 631.3 503.9 636.2 503.1 639.1 C502.3 642.0 499.9 644.8 498.4 646.9 C496.9 649.0 494.8 650.8 494.1 651.6" fill="none" stroke="#24e42c" stroke-width="2.91"/>
<path d="M503.1 639.1 C504.7 638.8 509.3 637.5 512.5 637.5 C515.7 637.5 520.6 638.8 522.2 639.1" fill="none" stroke="#24e42c" stroke-width="2.91"/>
<path d="M476.6 635.9 C476.9 637.5 478.0 641.4 478.1 645.3 C478.2 649.2 477.6 657.0 477.5 659.4" fill="none" stroke="#24e42c" stroke-width="2.91"/>
<path d="M478.1 607.8 C479.7 607.8 485.5 607.1 487.5 607.8 C489.5 608.5 489.6 611.2 490 611.9" fill="none" stroke="#24e42c" stroke-width="1.70"/>
<path d="M478.1 612.5 L473.8 615.6" fill="none" stroke="#24e42c" stroke-width="1.70"/>
<path d="M509.4 603.1 C508.1 604.1 502.9 607.6 501.6 609.4 C500.4 611.2 501.8 613.3 501.9 614.1" fill="none" stroke="#24e42c" stroke-width="1.70"/>
<path d="M540.6 612.5 L544.1 621.9" fill="none" stroke="#24e42c" stroke-width="1.70"/>
<path d="M490.6 639.1 L498.4 645.3" fill="none" stroke="#24e42c" stroke-width="1.70"/>
<path d="M509.4 651.6 C510.0 652.1 513.5 654.1 512.8 654.7 C512.1 655.3 506.3 655.0 505 655" fill="none" stroke="#24e42c" stroke-width="1.70"/>
<path d="M500 662.5 L498.8 673.4" fill="none" stroke="#24e42c" stroke-width="1.70"/>
<path d="M506.2 670.3 L507.2 676.6" fill="none" stroke="#24e42c" stroke-width="1.70"/>
<path d="M540.6 659.4 L542.5 667.2" fill="none" stroke="#24e42c" stroke-width="1.70"/>
<path d="M560 681.2 L554.7 684.4" fill="none" stroke="#24e42c" stroke-width="1.70"/>
<path d="M560 612.5 C562.6 612.8 571.4 614.4 575.6 614.1 C579.8 613.8 581.6 612.2 585 610.9 C588.4 609.6 592.2 607.5 595.9 606.2 C599.6 604.9 605.3 603.6 607.2 603.1" fill="none" stroke="#24e42c" stroke-width="3.36"/>
<path d="M628.8 610.9 C629.6 612.2 630.8 617.2 633.4 618.8 C636.0 620.4 641.3 620.3 644.4 620.3 C647.5 620.3 650.6 618.3 652.2 618.8 C653.8 619.3 653.8 622.6 654.1 623.4" fill="none" stroke="#24e42c" stroke-width="3.36"/>
<path d="M660 600 C660.0 601.3 659.0 605.2 660 607.8 C661.0 610.4 665.2 613.0 666.2 615.6 C667.2 618.2 666.9 621.0 666.2 623.4 C665.5 625.8 662.6 628.7 661.9 629.7" fill="none" stroke="#24e42c" stroke-width="3.36"/>
<path d="M622.5 639.1 C623.3 640.1 626.2 643.0 627.2 645.3 C628.2 647.6 628.2 650.8 628.8 653.1 C629.4 655.5 630.3 658.4 630.6 659.4" fill="none" stroke="#24e42c" stroke-width="3.36"/>
<path d="M580.3 614.1 C580.8 616.2 582.0 622.2 583.4 626.6 C584.8 631.0 587.6 638.3 588.4 640.6" fill="none" stroke="#24e42c" stroke-width="2.91"/>
<path d="M560 629.7 C561.0 630.7 564.6 634.1 566.2 635.9 C567.8 637.7 569.1 639.8 569.7 640.6" fill="none" stroke="#24e42c" stroke-width="2.91"/>
<path d="M638.1 600 C638.6 601.0 639.4 604.1 641.2 606.2 C643.0 608.3 647.3 610.4 649.1 612.5 C650.9 614.6 651.7 617.8 652.2 618.8" fill="none" stroke="#24e42c" stroke-width="2.91"/>
<path d="M666.2 615.6 C666.7 615.1 668.8 614.6 669.4 612.5 C670.0 610.4 669.7 604.7 669.7 603.1" fill="none" stroke="#24e42c" stroke-width="2.91"/>
<path d="M669.4 610.9 C671.5 610.9 679.5 611.9 681.9 610.9 C684.3 609.9 683.5 605.7 683.8 604.7" fill="none" stroke="#24e42c" stroke-width="2.91"/>
<path d="M699.1 600 C699.4 601.0 699.5 604.9 700.6 606.2 C701.7 607.5 704.8 607.5 705.6 607.8" fill="none" stroke="#24e42c" stroke-width="2.91"/>
<path d="M575.6 648.4 C575.9 650.8 578.2 659.4 577.2 662.5 C576.2 665.6 571.8 664.9 569.4 667.2 C567.0 669.6 564.7 674.2 563.1 676.6 C561.5 679.0 560.5 680.8 560 681.6" fill="none" stroke="#24e42c" stroke-width="2.91"/>
<path d="M592.8 670.3 C592.5 671.6 592.2 675.8 591.2 678.1 C590.2 680.5 587.6 683.4 586.9 684.4" fill="none" stroke="#24e42c" stroke-width="2.91"/>
<path d="M622.5 617.2 C622.5 618.5 623.2 622.7 622.5 625 C621.8 627.3 618.7 629.1 618.1 631.2 C617.5 633.3 618.7 636.5 618.8 637.5" fill="none" stroke="#24e42c" stroke-width="5.04"/>
<path d="M595.9 606.2 L599.4 614.1" fill="none" stroke="#24e42c" stroke-width="1.53"/>
<path d="M591.2 600 L593.1 606.2" fill="none" stroke="#24e42c" stroke-width="1.53"/>
<path d="M583.4 631.2 L581.9 637.8" fill="none" stroke="#24e42c" stroke-width="1.53"/>
<path d="M591.2 628.1 L599.4 631.2" fill="none" stroke="#24e42c" stroke-width="1.53"/>
<path d="M613.1 617.2 L616.2 625.3" fill="none" stroke="#24e42c" stroke-width="1.53"/>
<path d="M606.9 637.5 L613.4 636.7" fill="none" stroke="#24e42c" stroke-width="1.53"/>
<path d="M691.2 612.5 L693.1 617.2" fill="none" stroke="#24e42c" stroke-width="1.53"/>
<path d="M611.6 651.6 C612.9 652.4 616.8 655.7 619.4 656.2 C622.0 656.7 626.1 655.0 627.5 654.7" fill="none" stroke="#24e42c" stroke-width="1.53"/>
<path d="M569.4 656.2 L571.2 665.6" fill="none" stroke="#24e42c" stroke-width="1.53"/>
<path d="M583.4 660.9 L577.5 662.5" fill="none" stroke="#24e42c" stroke-width="1.53"/>
<path d="M603.8 662.5 C605.1 663.5 609.2 667.2 611.6 668.8 C614.0 670.4 617.0 671.4 618.1 671.9" fill="none" stroke="#24e42c" stroke-width="1.53"/>
<path d="M575.6 684.4 L576.6 690.6" fill="none" stroke="#24e42c" stroke-width="1.53"/>
<path d="M566.2 684.4 L567.2 689.1" fill="none" stroke="#24e42c" stroke-width="1.53"/>
<polygon points="487.5,653.9 496.9,650.8 493.8,662.5 489.8,667.5 485.2,661.7" fill="#1f8a22"/>
<polygon points="416.3,437 419,435.4 423.4,447.9 431.2,454.2 434.6,458.9 429.6,457.6 421.8,449.5" fill="#f6ea5a" stroke="#8a7a20" stroke-width="0.4"/>
<polygon points="454.6,447.2 459.3,446.4 457.8,456.5 454.6,454.2" fill="#f6ea5a" stroke="#8a7a20" stroke-width="0.4"/>
<polygon points="446.8,460.4 453.4,458.1 448.4,465.9 445.2,465.1" fill="#f6ea5a" stroke="#8a7a20" stroke-width="0.4"/>
<polygon points="326.7,481.5 331.3,480.4 334.5,484.7 332.1,487.8 328.2,486.2" fill="#f6ea5a" stroke="#8a7a20" stroke-width="0.4"/>
<polygon points="334.5,490.1 338.4,489.8 338.7,493.2 335.6,493.6" fill="#f6ea5a" stroke="#8a7a20" stroke-width="0.4"/>
<polygon points="628.8,641.9 633.4,640.9 638.1,645.3 633.4,647.2" fill="#f6ea5a" stroke="#8a7a20" stroke-width="0.4"/>
<polygon points="658.4,631.2 664.7,627.3 667.8,633.6 661.6,638.3" fill="#f6ea5a" stroke="#8a7a20" stroke-width="0.4"/>
<polygon points="663.1,636.7 669.4,635.6 667.8,639.8 663.8,640" fill="#f6ea5a" stroke="#8a7a20" stroke-width="0.4"/>
<polygon points="475.6,657 479.4,656.2 479.4,663.3 475.6,664.1" fill="#fff8e8" stroke="#7a6a20" stroke-width="0.4"/>
<polygon points="532.8,673.4 537.5,672.7 537.2,679.4 533.1,679.7" fill="#fff8e8" stroke="#7a6a20" stroke-width="0.4"/>
<polygon points="402.5,550 404.8,549 406.5,562.5 402.5,562.2" fill="#fff8e8" stroke="#7a6a20" stroke-width="0.4"/>
<polygon points="411.9,555.6 414.8,554.4 415.2,561.2 412.2,561.5" fill="#fff8e8" stroke="#7a6a20" stroke-width="0.4"/>
<polygon points="418.8,590.6 423.1,580 425,580.2 421.5,591.2" fill="#fff8e8" stroke="#7a6a20" stroke-width="0.4"/>
<polygon points="426.9,580 428.8,579.8 431.2,588.5 429,589" fill="#fff8e8" stroke="#7a6a20" stroke-width="0.4"/>
<polygon points="432.8,568.1 437.5,566.5 438.2,569 433.8,571" fill="#fff8e8" stroke="#7a6a20" stroke-width="0.4"/>
<polygon points="425,573.8 429,573.1 429.5,577.8 425.5,578.2" fill="#fff8e8" stroke="#7a6a20" stroke-width="0.4"/>
<path d="M428.8 577.5 C430.9 576.9 437.7 574.8 441.2 573.8 C444.7 572.8 446.9 571.2 450 571.2 C453.1 571.2 457.1 572.1 460 573.8 C462.9 575.5 465.0 578.5 467.5 581.2 C470.0 583.9 472.7 588.1 475 590 C477.3 591.9 478.1 592.2 481.2 592.5 C484.3 592.8 490.2 591.1 493.8 591.9 C497.4 592.7 499.4 596.0 502.5 597.5 C505.6 599.0 508.2 600.3 512.5 601.2 C516.8 602.1 523.7 602.0 528 603.1 C532.3 604.2 533.8 606.2 538.1 607.8 C542.4 609.4 546.5 611.6 553.8 612.5 C561.1 613.4 574.6 614.6 581.9 613.3 C589.2 612.0 591.1 608.0 597.5 604.7 C603.9 601.5 615.7 596.0 620 593.8 C624.3 591.6 622.8 591.8 623.4 591.4" fill="none" stroke="#2c4a66" stroke-width="1.1"/>
<path d="M543.5 475 C543.1 479.2 540.2 491.7 541 500 C541.8 508.3 545.2 517.1 548.5 525 C551.8 532.9 553.9 540.0 561 547.5 C568.1 555.0 584.9 565.3 591 570 C597.1 574.7 596.4 574.6 597.5 575.5" fill="none" stroke="#2c4a66" stroke-width="1.1"/>
<path d="M291.5 509.7 C295.1 509.8 308.2 509.0 313.4 510.4 C318.6 511.8 322.4 518.2 322.8 518.2 C323.2 518.2 314.2 509.3 315.6 510.6 C317.0 511.9 325.5 520.3 331.2 525.8 C336.9 531.3 344.3 539.2 350 543.8 C355.7 548.3 362.0 550.0 365.6 553.1 C369.2 556.2 370.7 558.6 371.9 562.5 C373.1 566.4 371.1 573.0 372.7 576.6 C374.2 580.2 378.2 581.5 381.2 584.4 C384.2 587.3 388.0 590.2 390.6 593.8 C393.2 597.4 393.8 602.0 396.9 606.2 C400.0 610.4 406.8 616.4 409.4 618.8 C412.0 621.1 410.2 617.4 412.5 620.3 C414.8 623.1 420.5 630.7 423.4 635.9 C426.3 641.1 428.0 645.6 429.7 651.6 C431.4 657.6 431.5 667.0 433.6 671.9 C435.7 676.8 439.2 680.2 442.2 681.2 C445.2 682.2 448.0 678.6 451.6 678.1 C455.2 677.6 461.0 677.1 464.1 678.1 C467.2 679.1 466.9 683.1 470.3 684.4 C473.7 685.7 480.0 685.2 484.4 685.9 C488.8 686.5 493.3 687.0 496.9 688.3 C500.5 689.6 503.3 691.8 506.2 693.8 C509.1 695.8 512.8 699.0 514.1 700" fill="none" stroke="#28447a" stroke-width="1.2"/>
<path d="M470.3 684.4 L476.6 695.3" fill="none" stroke="#28447a" stroke-width="1"/>
<path d="M364 479.2 C367.1 477.9 375.5 474.9 382.8 471.4 C390.1 467.9 401.0 459.4 407.8 458.1 C414.6 456.8 418.7 461.7 423.4 463.6 C428.1 465.6 431.7 468.0 435.9 469.8 C440.1 471.6 444.8 471.1 448.4 474.5 C452.0 477.9 454.7 485.2 457.8 490.1 C460.9 495.1 464.8 500.6 467.1 504.2 C469.4 507.8 469.2 507.4 471.8 512 C474.4 516.6 481.0 528.7 482.8 532" fill="none" stroke="#fff2c4" stroke-width="1.4" stroke-opacity="0.95"/>
<path d="M428.1 429.2 C427.2 434.1 423.7 448.8 422.6 458.9 C421.6 469.0 421.5 479.7 421.8 490.1 C422.1 500.5 423.7 514.4 424.2 521.4 C424.7 528.4 424.8 530.2 424.9 532" fill="none" stroke="#fff2c4" stroke-width="1.4" stroke-opacity="0.95"/>
<path d="M440.6 532 C442.4 530.2 446.0 525.2 451.5 521.4 C457.0 517.5 466.1 512.3 473.4 508.9 C480.7 505.5 488.4 503.7 495.2 501.1 C502.0 498.5 509.2 495.6 514 493.2 C518.8 490.8 522.3 488.0 524 487" fill="none" stroke="#fff2c4" stroke-width="1.4" stroke-opacity="0.95"/>
<path d="M451.5 524.8 L461.7 524.2" fill="none" stroke="#fff2c4" stroke-width="1.4" stroke-opacity="0.95"/>
<path d="M460 524.2 C473.0 524.2 519.9 524.9 538.1 524.2 C556.3 523.6 555.8 520.9 569.4 520.3 C583.0 519.6 611.6 520.3 620 520.3" fill="none" stroke="#fff2c4" stroke-width="1.4" stroke-opacity="0.95"/>
<path d="M460 546.9 C467.8 548.5 492.8 552.6 506.9 556.2 C521.0 559.9 532.4 565.4 544.4 568.8 C556.4 572.2 566.2 573.9 578.8 576.6 C591.4 579.3 613.1 583.8 620 585.2" fill="none" stroke="#fff2c4" stroke-width="1.4" stroke-opacity="0.95"/>
<path d="M483.4 529.7 C486.0 533.4 495.4 547.2 499.1 551.6 C502.8 556.0 504.5 555.4 505.6 556.2" fill="none" stroke="#fff2c4" stroke-width="1.4" stroke-opacity="0.95"/>
<path d="M544.4 568.8 C542.8 571.4 540.5 580.2 535 584.4 C529.5 588.6 518.4 590.2 511.6 593.8 C504.8 597.4 498.6 601.8 494.4 606.2 C490.2 610.6 487.9 617.7 486.6 620" fill="none" stroke="#fff2c4" stroke-width="1.4" stroke-opacity="0.95"/>
<path d="M556.9 500 C560.0 505.2 572.0 520.8 575.6 531.2 C579.2 541.6 578.3 549.5 578.8 562.5 C579.3 575.5 578.3 599.8 578.8 609.4 C579.3 619.0 581.4 618.2 581.9 620" fill="none" stroke="#fff2c4" stroke-width="1.4" stroke-opacity="0.95"/>
<path d="M560 503.1 L545.9 521.9" fill="none" stroke="#fff2c4" stroke-width="1.4" stroke-opacity="0.95"/>
<path d="M600 519.5 C603.4 519.8 611.2 518.8 620.3 521.1 C629.4 523.5 646.4 530.6 654.7 533.6 C663.0 536.6 663.8 535.1 670.3 539.1 C676.8 543.1 686.8 554.2 693.8 557.8 C700.8 561.4 709.4 560.4 712.5 560.9" fill="none" stroke="#fff2c4" stroke-width="1.4" stroke-opacity="0.95"/>
<path d="M645.3 516.4 C646.9 518.9 653.1 525.6 654.7 531.2 C656.3 536.8 657.3 542.2 654.7 550 C652.1 557.8 643.5 569.8 639.1 578.1 C634.7 586.4 632.8 593.0 628.1 600 C623.4 607.0 613.8 616.7 610.9 620" fill="none" stroke="#fff2c4" stroke-width="1.4" stroke-opacity="0.95"/>
<path d="M600 582 C605.2 583.2 619.5 586.4 631.2 589.1 C642.9 591.8 657.3 595.8 670.3 598.4 C683.3 601.0 702.9 603.7 709.4 604.7" fill="none" stroke="#fff2c4" stroke-width="1.4" stroke-opacity="0.95"/>
<path d="M709.4 604.7 C705.5 606.0 692.9 610.0 685.9 612.5 C678.9 615.0 670.3 618.8 667.2 620" fill="none" stroke="#fff2c4" stroke-width="1.4" stroke-opacity="0.95"/>
<path d="M451.6 600 C452.6 603.4 456.4 611.7 457.8 620.3 C459.2 628.9 459.9 645.4 460.2 651.6 C460.5 657.9 461.6 654.2 459.4 657.8 C457.2 661.4 450.3 667.9 446.9 673.4 C443.5 678.9 440.4 687.7 439.1 690.6" fill="none" stroke="#fff2c4" stroke-width="1.4" stroke-opacity="0.95"/>
<path d="M459.4 657.8 C461.2 656.9 463.5 653.6 470.3 652.3 C477.1 651.0 491.4 651.4 500 650 C508.6 648.6 515.1 644.4 521.9 643.8 C528.7 643.1 534.2 644.9 540.6 646.1 C547.0 647.3 556.8 650.0 560 650.8" fill="none" stroke="#fff2c4" stroke-width="1.4" stroke-opacity="0.95"/>
<path d="M451.6 604.7 C456.5 607.8 471.6 619.4 481.2 623.4 C490.8 627.4 501.6 626.0 509.4 628.9 C517.2 631.8 522.9 637.7 528.1 640.6 C533.3 643.5 538.5 645.2 540.6 646.1" fill="none" stroke="#fff2c4" stroke-width="1.4" stroke-opacity="0.95"/>
<path d="M500 600 C497.9 603.4 491.9 614.0 487.5 620.3 C483.1 626.5 476.8 632.0 473.4 637.5 C470.0 643.0 468.2 650.5 467.2 653.1" fill="none" stroke="#fff2c4" stroke-width="1.4" stroke-opacity="0.95"/>
<path d="M577.2 600 C578.2 603.4 580.8 613.3 583.4 620.3 C586.0 627.3 591.2 638.6 592.8 642.2" fill="none" stroke="#fff2c4" stroke-width="1.4" stroke-opacity="0.95"/>
<path d="M625.6 600 C623.3 602.6 617.1 608.6 611.6 615.6 C606.1 622.6 595.9 637.8 592.8 642.2" fill="none" stroke="#fff2c4" stroke-width="1.4" stroke-opacity="0.95"/>
<path d="M560 650.8 C563.4 650.7 574.8 651.3 580.3 650 C585.8 648.7 584.5 645.9 592.8 643 C601.1 640.1 619.1 636.1 630.3 632.8 C641.5 629.5 650.9 626.8 660 623.4 C669.1 620.0 679.3 615.6 685 612.5 C690.7 609.4 690.8 606.0 694.4 604.7 C698.0 603.4 704.8 604.7 706.9 604.7" fill="none" stroke="#fff2c4" stroke-width="1.4" stroke-opacity="0.95"/>
<path d="M641.2 632 C642.2 633.4 645.7 638.2 647.5 640.6 C649.3 643.0 651.4 645.2 652.2 646.1" fill="none" stroke="#fff2c4" stroke-width="1.4" stroke-opacity="0.95"/>
<path d="M356.2 568 C358.6 566.7 364.0 563.2 370.3 560.2 C376.6 557.2 384.7 553.0 393.8 550 C402.9 547.0 417.2 545.2 425 542.2 C432.8 539.2 438.0 533.7 440.6 532" fill="none" stroke="#fff2c4" stroke-width="1.4" stroke-opacity="0.95"/>
<path d="M387.5 503.1 C391.1 507.0 403.1 520.1 409.4 526.6 C415.6 533.1 420.3 535.2 425 542.2 C429.7 549.2 433.3 559.7 437.5 568.8 C441.7 577.9 446.9 588.4 450 596.9 C453.1 605.4 455.2 616.1 456.2 620" fill="none" stroke="#fff2c4" stroke-width="1.4" stroke-opacity="0.95"/>
<path d="M403.8 520 L425 541.2" fill="none" stroke="#fff2c4" stroke-width="1.4" stroke-opacity="0.95"/>
<path d="M325 471.2 C328.3 473.1 338.3 478.5 345 482.5 C351.7 486.5 358.3 491.1 365 495 C371.7 498.9 381.7 504.3 385 506.2" fill="none" stroke="#fff2c4" stroke-width="1.4" stroke-opacity="0.95"/>
<path d="M459.3 447.9 L461.2 462" fill="none" stroke="#8a5a14" stroke-width="0.9"/>
<path d="M467.1 447.2 L469 457.6" fill="none" stroke="#8a5a14" stroke-width="0.9"/>
<path d="M478.8 445.6 L480.6 455.1" fill="none" stroke="#8a5a14" stroke-width="0.9"/>
<path d="M445.2 465.9 L457.8 476.1" fill="none" stroke="#8a5a14" stroke-width="0.9"/>
<path d="M466 450 L468.5 458.8" fill="none" stroke="#8a5a14" stroke-width="0.9"/>
<path d="M478.5 447.5 L479.8 455" fill="none" stroke="#8a5a14" stroke-width="0.9"/>
<path d="M497.2 475 L491 485" fill="none" stroke="#8a5a14" stroke-width="0.9"/>
<circle cx="428" cy="533.1" r="1.2" fill="#e02020"/>
<circle cx="440.6" cy="532.6" r="1.2" fill="#e02020"/>
<circle cx="443.8" cy="682" r="1.2" fill="#e02020"/>
<path d="M476.5 515.6 l1.3 3.1 3.3 .2 -2.6 2.1 .9 3.3 -2.9-1.9 -2.9 1.9 .9-3.3 -2.6-2.1 3.3-.2z" fill="#f6ea5a" stroke="#5a4a10" stroke-width="0.5"/>
<polygon points="213.7,426.1 232.9,422.9 237.6,440.6 244.9,441.4 258.7,434.7 271.5,432.8 285.2,440.1 297.8,445.6 307.9,447.2 320.4,430.4 327.4,428.4 330.2,444.8 344.6,441.7 364,438.6 382.8,445.6 400.7,444.8 407.8,430 421.8,423.3 440.6,422.2 444.5,432.3 450.7,444.8 473.4,444 485.9,440.9 497.6,441.4 511.7,457.3 524,469.3 544.3,474.5 565.4,478.4 578.7,493.3 587.3,502.3 611.5,503.4 627.1,514.3 650.6,514.3 664.6,522.2 677.1,527.6 693.8,531.3 707.8,535.6 707,548.4 716.4,562.5 717.2,578.1 712.5,595.3 710,600 701.4,617.2 697.5,621.6 677.2,625.8 675.6,635.2 653.8,646.9 631.9,660.2 619.4,671.9 605.3,685.9 594.4,696.1 560,710.2 537.5,707.8 512.5,700.8 461.7,694.5 446.9,703.1 415.3,673.4 415.6,630.5 400,618.8 393.8,615.6 368.8,596.9 357.8,575 351.6,562.5 344.5,547.7 324.2,533.6 309.4,517.5 297.8,519.8 286.8,505.8 279,494.8 272.8,487 265.7,479.2 247,463.6 241.5,459.7 223.5,458.9" fill="none" stroke="#24402e" stroke-width="1.2"/>
<text x="432.5" y="540.6" font-size="4.6" font-weight="bold" textLength="23" lengthAdjust="spacingAndGlyphs" style="fill:#e0501a">PALLISA</text>
<text x="460" y="530.4" font-size="4.2" textLength="21" lengthAdjust="spacingAndGlyphs" style="fill:#e0501a">Pallisa</text>
<text x="448.5" y="690" font-size="4.6" textLength="32" lengthAdjust="spacingAndGlyphs" style="fill:#c05a1a">Mpologoma</text>
<g id="scalebar">
<rect x="277.5" y="728.6" width="374.6" height="7.2" fill="#fff" stroke="#222" stroke-width="0.7"/>
<rect x="277.5" y="728.6" width="93.7" height="4.2" fill="#000"/>
<rect x="371.2" y="732.2" width="93.6" height="3.6" fill="#000"/>
<rect x="464.8" y="728.6" width="187.3" height="4.2" fill="#000"/>
<text x="272.6" y="726.2" font-size="7.2" style="fill:#555">30</text>
<text x="462.6" y="726.2" font-size="7.2" style="fill:#555">0</text>
<text x="647.8" y="726.2" font-size="7.2" textLength="51" lengthAdjust="spacingAndGlyphs" style="fill:#555">30  Kilometers</text>
</g>
<g id="north">
<path d="M243.3 706.5 L248.8 724.2 L243.6 719.4 Z" fill="#111"/>
<path d="M243.3 706.5 L237.2 724.6 L243.6 719.4 Z" fill="#fff" stroke="#333" stroke-width="0.6"/>
<text x="240.6" y="703.8" font-size="5" font-weight="bold" style="fill:#333">N</text>
</g>
</g>
<g id="chart" fill="none" stroke="#1a1a1a" stroke-width="1.2">
<path d="M341.5 349.7 H1015.5"/>
<path d="M648.4 51.5 V349.7"/>
<path d="M367.2 341.17 C368.5 341.3 372.5 341.6 375.2 341.72 C377.9 341.9 380.5 342.0 383.2 342.01 C385.9 342.1 388.5 342.1 391.2 342 C393.9 341.9 396.5 341.8 399.2 341.63 C401.9 341.4 404.5 341.2 407.2 340.86 C409.9 340.5 412.5 340.1 415.2 339.63 C417.9 339.1 420.5 338.6 423.2 337.9 C425.9 337.2 428.5 336.5 431.2 335.64 C433.9 334.8 436.5 333.9 439.2 332.81 C441.9 331.8 444.5 330.6 447.2 329.39 C449.9 328.1 452.5 326.8 455.2 325.34 C457.9 323.9 460.5 322.3 463.2 320.64 C465.9 319.0 468.5 317.2 471.2 315.28 C473.9 313.4 476.5 311.4 479.2 309.24 C481.9 307.1 484.5 304.9 487.2 302.51 C489.9 300.1 492.5 297.7 495.2 295.08 C497.9 292.5 500.5 289.8 503.2 286.95 C505.9 284.1 508.5 281.2 511.2 278.13 C513.9 275.1 516.5 271.9 519.2 268.62 C521.9 265.3 524.5 261.9 527.2 258.43 C529.9 254.9 532.5 251.3 535.2 247.57 C537.9 243.8 540.5 240.0 543.2 236.06 C545.9 232.1 548.5 228.1 551.2 223.92 C553.9 219.8 556.5 215.5 559.2 211.17 C561.9 206.8 564.5 202.4 567.2 197.85 C569.9 193.3 572.5 188.7 575.2 184 C577.9 179.3 580.5 174.5 583.2 169.72 C585.9 164.9 588.5 160.0 591.2 155.2 C593.9 150.4 596.5 145.5 599.2 140.72 C601.9 136.0 604.5 131.2 607.2 126.64 C609.9 122.1 612.5 117.6 615.2 113.41 C617.9 109.2 620.5 105.2 623.2 101.46 C625.9 97.8 628.5 94.3 631.2 91.17 C633.9 88.1 636.5 85.2 639.2 82.78 C641.9 80.3 644.5 78.2 647.2 76.44 C649.9 74.7 652.5 73.3 655.2 72.12 C657.9 71.0 660.5 70.2 663.2 69.62 C665.9 69.0 668.5 68.8 671.2 68.54 C673.9 68.3 677.2 68.4 679.2 68.32 C681.2 68.3 682.7 68.3 683.4 68.3 L683.4 68.3 C684.4 68.3 687.1 68.2 689.4 68.36 C691.7 68.6 694.7 69.0 697.4 69.5 C700.1 70.0 702.7 70.8 705.4 71.61 C708.1 72.5 710.7 73.4 713.4 74.63 C716.1 75.8 718.7 77.1 721.4 78.71 C724.1 80.3 726.7 82.1 729.4 84.25 C732.1 86.4 734.7 88.9 737.4 91.76 C740.1 94.6 742.7 97.9 745.4 101.54 C748.1 105.2 750.7 109.2 753.4 113.59 C756.1 117.9 758.7 122.7 761.4 127.58 C764.1 132.5 766.7 137.7 769.4 142.87 C772.1 148.1 774.7 153.4 777.4 158.68 C780.1 163.9 782.7 169.2 785.4 174.35 C788.1 179.5 790.7 184.5 793.4 189.41 C796.1 194.3 798.7 199.0 801.4 203.53 C804.1 208.1 806.7 212.4 809.4 216.56 C812.1 220.7 814.7 224.7 817.4 228.51 C820.1 232.3 822.7 236.0 825.4 239.58 C828.1 243.2 830.7 246.6 833.4 250.1 C836.1 253.6 838.7 257.0 841.4 260.45 C844.1 263.9 846.7 267.4 849.4 270.8 C852.1 274.2 854.7 277.7 857.4 281.1 C860.1 284.5 862.7 287.9 865.4 291.08 C868.1 294.3 870.7 297.4 873.4 300.35 C876.1 303.3 878.7 306.1 881.4 308.61 C884.1 311.2 886.7 313.5 889.4 315.68 C892.1 317.8 894.7 319.8 897.4 321.56 C900.1 323.3 902.7 324.9 905.4 326.33 C908.1 327.8 910.7 329.0 913.4 330.15 C916.1 331.3 918.7 332.3 921.4 333.19 C924.1 334.1 926.7 334.9 929.4 335.56 C932.1 336.3 934.7 336.8 937.4 337.38 C940.1 337.9 942.7 338.4 945.4 338.76 C948.1 339.2 950.7 339.5 953.4 339.76 C956.1 340.0 958.7 340.3 961.4 340.45 C964.1 340.6 966.7 340.8 969.4 340.88 C972.1 341.0 974.7 341.0 977.4 341.07 C980.1 341.1 982.7 341.1 985.4 341.03 C988.1 341.0 991.2 340.8 993.4 340.75 C995.5 340.7 997.5 340.5 998.3 340.45" stroke-linejoin="round"/>
</g>
<g id="arrows">
<path d="M385 494 L457.4 340.2" stroke="#111" stroke-width="1.5" stroke-dasharray="1.5 1.7" fill="none"/><polygon points="460.6,333.4 460.5,341.6 454.3,338.7" fill="#111"/>
<path d="M494 521.5 L595.0 161.4" stroke="#111" stroke-width="1.5" stroke-dasharray="1.5 1.7" fill="none"/><polygon points="597,154.2 598.2,162.3 591.7,160.5" fill="#111"/>
<path d="M521.3 656.4 L722.8 92.9" stroke="#111" stroke-width="1.5" stroke-dasharray="1.5 1.7" fill="none"/><polygon points="725.3,85.8 726.0,94.0 719.6,91.7" fill="#111"/>
<path d="M639.8 572.7 L865.3 313.3" stroke="#111" stroke-width="1.5" stroke-dasharray="1.5 1.7" fill="none"/><polygon points="870.2,307.6 867.8,315.5 862.7,311.0" fill="#111"/>
</g>
<g id="labels" fill="#111">
<text x="48.3" y="76.3" font-size="35" textLength="415" lengthAdjust="spacingAndGlyphs" font-weight="bold">Opportunity cost, system</text>
<text x="87.2" y="124.2" font-size="35" textLength="337.8" lengthAdjust="spacingAndGlyphs" font-weight="bold">choice and adoption</text>
<text x="63.2" y="167" font-size="30.6" textLength="386.6" lengthAdjust="spacingAndGlyphs">Opportunity cost <tspan font-family="'Liberation Serif', 'DejaVu Serif', serif" font-size="1.09em">ω</tspan> = v<tspan font-size="21" dy="7.5">1</tspan><tspan dy="-7.5"> – v</tspan><tspan font-size="21" dy="7.5">2</tspan></text>
<text x="86.4" y="208" font-size="30.6" textLength="340.5" lengthAdjust="spacingAndGlyphs">follows distribution <tspan font-family="'Liberation Serif', 'DejaVu Serif', serif" font-size="1.12em">φ</tspan>(<tspan font-family="'Liberation Serif', 'DejaVu Serif', serif" font-size="1.09em">ω</tspan>)</text>
<text x="93.4" y="249" font-size="30.6" textLength="324.8" lengthAdjust="spacingAndGlyphs">v<tspan font-size="21" dy="7.5">1</tspan><tspan dy="-7.5"> = returns to system 1</tspan></text>
<text x="92.8" y="289.3" font-size="30.6" textLength="325.6" lengthAdjust="spacingAndGlyphs">V<tspan font-size="21" dy="7.5">2</tspan><tspan dy="-7.5"> = returns to system 2</tspan></text>
<text x="630.6" y="29.6" font-size="26.5" textLength="53.6" lengthAdjust="spacingAndGlyphs">φ(ω)</text>
<text x="640" y="386.8" font-size="31" textLength="17.8" lengthAdjust="spacingAndGlyphs">0</text>
<text x="834.4" y="380.3" font-size="20.5" textLength="174.8" lengthAdjust="spacingAndGlyphs"><tspan font-family="'Liberation Serif', 'DejaVu Serif', serif" font-size="1.09em">ω</tspan> opportunity cost</text>
<text x="512.3" y="298.8" font-size="18" textLength="127.6" lengthAdjust="spacingAndGlyphs" fill="#e6202c">System 2: <tspan font-family="'Liberation Serif', 'DejaVu Serif', serif" font-size="1.09em">ω</tspan> &lt; 0</text>
<text x="532.4" y="321.2" font-size="18" textLength="86" lengthAdjust="spacingAndGlyphs" fill="#e6202c">(adopters)</text>
<text x="665.6" y="299.5" font-size="20.5" textLength="145" lengthAdjust="spacingAndGlyphs">System 1: <tspan font-family="'Liberation Serif', 'DejaVu Serif', serif" font-size="1.09em">ω</tspan> &gt; 0</text>
<text x="668.4" y="326" font-size="20.5" textLength="139" lengthAdjust="spacingAndGlyphs">(non-adopters)</text>
<text x="769" y="556.6" font-size="23" textLength="94" lengthAdjust="spacingAndGlyphs">Map of a</text>
<text x="769" y="587.3" font-size="23" textLength="158.6" lengthAdjust="spacingAndGlyphs">heterogeneous</text>
<text x="769" y="618.1" font-size="23" textLength="67.2" lengthAdjust="spacingAndGlyphs">region</text>
</g>
</svg></body></html>
